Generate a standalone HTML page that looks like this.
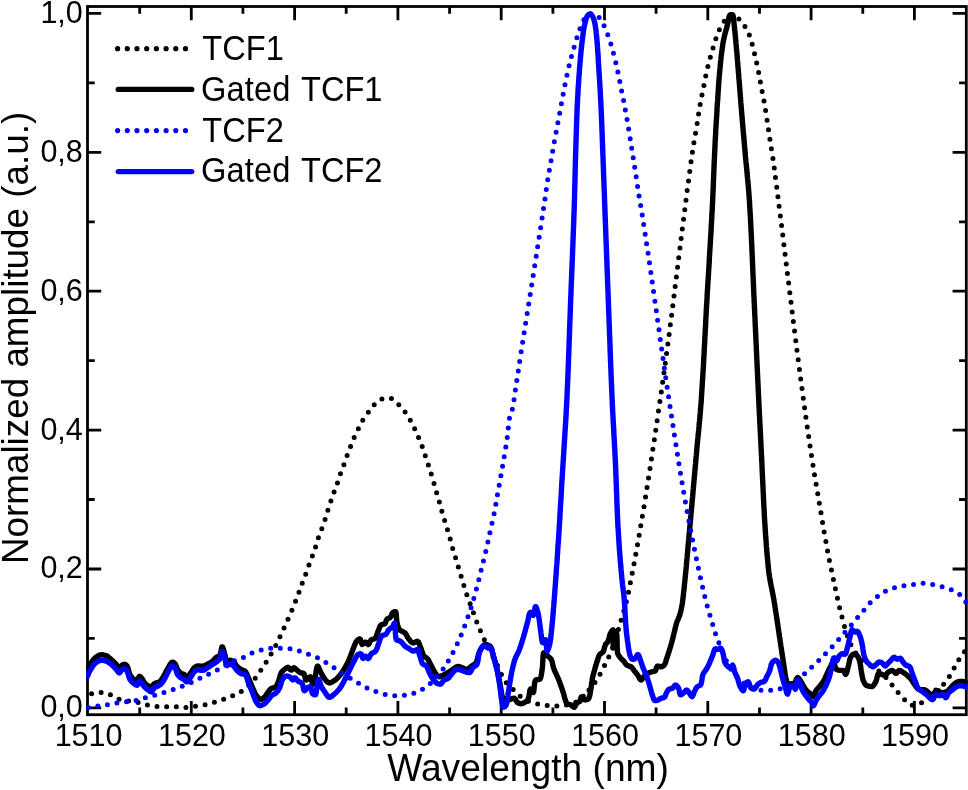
<!DOCTYPE html>
<html><head><meta charset="utf-8"><title>chart</title>
<style>
html,body{margin:0;padding:0;background:#fff;}
body{width:968px;height:790px;overflow:hidden;}
svg{display:block;will-change:transform;font-family:"Liberation Sans",sans-serif;fill:#000;}
.t{font-size:30.5px;}
.lg{font-size:32.6px;}
.ax{font-size:36.85px;}
</style></head><body>
<svg width="968" height="790" viewBox="0 0 968 790">
<rect width="968" height="790" fill="#fff"/>
<defs><clipPath id="c"><rect x="86.1" y="5.1" width="881.5999999999999" height="711.0"/></clipPath></defs>

<rect x="87.5" y="6.5" width="878.8" height="708.2" fill="none" stroke="#000" stroke-width="2.8"/>
<path d="M139.7 714.7 v-7.2 M139.7 6.5 v7.2 M191.3 714.7 v-13.7 M191.3 6.5 v13.7 M242.9 714.7 v-7.2 M242.9 6.5 v7.2 M294.6 714.7 v-13.7 M294.6 6.5 v13.7 M346.2 714.7 v-7.2 M346.2 6.5 v7.2 M397.9 714.7 v-13.7 M397.9 6.5 v13.7 M449.6 714.7 v-7.2 M449.6 6.5 v7.2 M501.2 714.7 v-13.7 M501.2 6.5 v13.7 M552.9 714.7 v-7.2 M552.9 6.5 v7.2 M604.5 714.7 v-13.7 M604.5 6.5 v13.7 M656.1 714.7 v-7.2 M656.1 6.5 v7.2 M707.8 714.7 v-13.7 M707.8 6.5 v13.7 M759.5 714.7 v-7.2 M759.5 6.5 v7.2 M811.1 714.7 v-13.7 M811.1 6.5 v13.7 M862.8 714.7 v-7.2 M862.8 6.5 v7.2 M914.4 714.7 v-13.7 M914.4 6.5 v13.7 M87.5 707.9 h13.7 M966.3 707.9 h-13.7 M87.5 638.4 h7.2 M966.3 638.4 h-7.2 M87.5 569.0 h13.7 M966.3 569.0 h-13.7 M87.5 499.5 h7.2 M966.3 499.5 h-7.2 M87.5 430.1 h13.7 M966.3 430.1 h-13.7 M87.5 360.6 h7.2 M966.3 360.6 h-7.2 M87.5 291.2 h13.7 M966.3 291.2 h-13.7 M87.5 221.8 h7.2 M966.3 221.8 h-7.2 M87.5 152.3 h13.7 M966.3 152.3 h-13.7 M87.5 82.8 h7.2 M966.3 82.8 h-7.2 M87.5 13.4 h13.7 M966.3 13.4 h-13.7" stroke="#000" stroke-width="2.8" fill="none"/>
<g clip-path="url(#c)" fill="none" stroke-linejoin="round" stroke-linecap="round">
<path d="M91.6 693.7 L94.6 692.9 L97.6 692.5 L100.5 692.4 L103.5 692.7 L106.4 693.5 L109.3 694.4 L112.0 695.5 L114.7 697.1 L117.3 698.6 L120.1 699.5 L122.9 700.2 L125.9 700.7 L128.9 701.1 L131.9 701.5 L134.9 702.0 L137.9 702.5 L140.8 703.2 L143.7 704.1 L146.6 704.8 L149.5 705.4 L152.5 705.9 L155.4 706.3 L158.4 706.5 L161.4 706.7 L164.4 706.8 L167.4 706.8 L170.4 706.8 L173.4 706.8 L176.4 706.8 L179.4 707.1 L182.4 707.5 L185.4 707.6 L188.4 707.3 L191.3 706.8 L194.3 706.3 L197.3 705.9 L200.3 705.6 L203.2 705.1 L206.2 704.5 L209.0 703.7 L211.9 702.9 L214.8 702.0 L217.7 701.2 L220.6 700.3 L223.4 699.4 L226.2 698.4 L229.0 697.3 L231.8 696.1 L234.6 695.0 L237.4 693.7 L240.0 692.3 L242.4 690.7 L244.8 688.9 L247.1 686.9 L249.3 684.8 L251.4 682.6 L253.4 680.4 L255.3 678.1 L257.1 675.7 L258.8 673.2 L260.5 670.7 L262.2 668.2 L263.9 665.7 L265.5 663.2 L267.1 660.7 L268.6 658.1 L270.2 655.5 L271.7 652.9 L273.2 650.3 L274.6 647.7 L276.0 645.0 L277.3 642.3 L278.6 639.6 L279.9 636.9 L281.2 634.2 L282.5 631.5 L283.7 628.8 L284.9 626.0 L286.2 623.3 L287.4 620.5 L288.6 617.8 L289.9 615.1 L291.1 612.3 L292.2 609.6 L293.4 606.8 L294.5 604.0 L295.6 601.2 L296.7 598.4 L297.8 595.6 L298.8 592.8 L299.8 590.0 L300.8 587.1 L301.8 584.3 L302.9 581.5 L304.0 578.8 L305.1 576.0 L306.1 573.1 L307.1 570.3 L308.1 567.5 L309.1 564.7 L310.2 561.8 L311.2 559.0 L312.3 556.2 L313.3 553.4 L314.4 550.6 L315.3 547.8 L316.2 544.9 L317.0 542.0 L317.9 539.1 L318.9 536.3 L319.9 533.5 L321.0 530.7 L322.1 527.9 L323.1 525.1 L324.2 522.3 L325.1 519.4 L326.0 516.5 L326.8 513.7 L327.7 510.8 L328.6 507.9 L329.6 505.1 L330.5 502.2 L331.5 499.4 L332.4 496.6 L333.4 493.7 L334.5 490.9 L335.6 488.1 L336.6 485.3 L337.6 482.5 L338.5 479.6 L339.4 476.8 L340.4 473.9 L341.5 471.1 L342.6 468.3 L343.6 465.5 L344.6 462.7 L345.6 459.8 L346.6 457.0 L347.6 454.2 L348.7 451.4 L349.8 448.6 L350.8 445.8 L351.9 443.0 L353.0 440.2 L354.2 437.5 L355.5 434.7 L356.8 432.0 L358.1 429.3 L359.4 426.6 L360.7 423.9 L362.1 421.3 L363.7 418.8 L365.5 416.3 L367.2 413.9 L369.0 411.4 L370.7 409.0 L372.5 406.5 L374.5 404.4 L376.8 402.1 L379.2 400.2 L381.8 399.1 L384.7 398.6 L387.8 398.2 L390.7 398.2 L393.2 399.3 L395.6 401.4 L397.9 403.8 L400.1 405.9 L402.1 408.1 L404.0 410.5 L405.8 412.9 L407.4 415.4 L409.0 417.9 L410.5 420.5 L411.9 423.2 L413.2 425.9 L414.6 428.6 L415.8 431.3 L417.0 434.0 L418.2 436.8 L419.4 439.6 L420.5 442.3 L421.7 445.1 L422.7 447.9 L423.6 450.8 L424.6 453.6 L425.5 456.5 L426.5 459.3 L427.4 462.2 L428.4 465.0 L429.3 467.9 L430.2 470.7 L431.1 473.6 L432.0 476.4 L432.9 479.3 L433.7 482.2 L434.5 485.1 L435.3 488.0 L436.1 490.9 L436.9 493.8 L437.7 496.6 L438.6 499.5 L439.5 502.4 L440.3 505.3 L441.0 508.2 L441.8 511.1 L442.7 513.9 L443.5 516.8 L444.4 519.7 L445.2 522.6 L446.1 525.4 L447.0 528.3 L447.9 531.2 L448.7 534.1 L449.6 536.9 L450.4 539.8 L451.2 542.7 L451.9 545.6 L452.7 548.5 L453.6 551.4 L454.5 554.2 L455.4 557.1 L456.2 560.0 L457.1 562.9 L458.0 565.7 L458.8 568.6 L459.7 571.5 L460.6 574.3 L461.4 577.2 L462.3 580.1 L463.1 583.0 L464.0 585.8 L464.8 588.7 L465.7 591.6 L466.7 594.4 L467.7 597.3 L468.7 600.1 L469.8 602.9 L470.8 605.7 L471.8 608.5 L472.9 611.3 L473.9 614.2 L474.9 617.0 L475.9 619.8 L477.0 622.6 L478.1 625.4 L479.2 628.2 L480.4 630.9 L481.6 633.7 L482.8 636.4 L484.1 639.1 L485.4 641.9 L486.7 644.5 L488.1 647.2 L489.4 649.9 L490.8 652.6 L492.2 655.2 L493.6 657.9 L494.9 660.6 L496.3 663.2 L497.6 665.9 L498.8 668.7 L500.0 671.4 L501.3 674.1 L502.7 676.8 L504.1 679.5 L505.8 682.0 L507.6 684.3 L509.7 686.4 L512.0 688.4 L514.1 690.5 L516.3 692.7 L518.5 694.7 L520.7 696.6 L523.2 698.4 L525.8 700.0 L528.5 701.2 L531.3 702.2 L534.2 703.1 L537.1 703.8 L540.1 704.4 L543.0 704.9 L546.0 705.3 L549.0 705.6 L552.0 705.9 L555.0 706.0 L558.0 705.9 L561.0 705.7 L563.9 705.3 L566.9 704.9 L569.9 704.3 L572.8 703.4 L575.5 702.3 L578.0 700.7 L580.4 698.8 L582.7 696.9 L584.8 694.8 L586.8 692.5 M589.0 690.0 L590.7 687.9 L592.6 685.6 L594.4 683.2 L596.1 680.7 L597.7 678.2 L599.2 675.6 L600.7 673.0 L602.1 670.3 L603.5 667.7 L604.8 665.0 L606.2 662.3 L607.5 659.6 L608.8 656.9 L610.1 654.2 L611.3 651.4 L612.5 648.7 L613.5 645.9 L614.4 643.0 L615.3 640.2 L616.1 637.3 L617.0 634.4 L617.8 631.5 L618.7 628.6 L619.5 625.7 L620.4 622.9 L621.2 620.0 L622.1 617.1 L622.9 614.2 L623.8 611.3 L624.6 608.5 L625.4 605.6 L626.1 602.7 L626.9 599.8 L627.5 596.8 L628.2 593.9 L628.8 591.0 L629.4 588.0 L629.9 585.1 L630.5 582.2 L631.1 579.2 L631.7 576.3 L632.2 573.3 L632.8 570.4 L633.4 567.4 L633.9 564.5 L634.5 561.5 L635.0 558.6 L635.5 555.6 L636.1 552.7 L636.6 549.7 L637.1 546.8 L637.7 543.8 L638.2 540.9 L638.7 537.9 L639.2 535.0 L639.7 532.0 L640.2 529.1 L640.7 526.1 L641.2 523.1 L641.7 520.2 L642.2 517.2 L642.7 514.3 L643.2 511.3 L643.7 508.3 L644.2 505.4 L644.7 502.4 L645.2 499.4 L645.6 496.5 L646.1 493.5 L646.6 490.6 L647.0 487.6 L647.5 484.6 L648.0 481.7 L648.4 478.7 L648.9 475.7 L649.3 472.8 L649.8 469.8 L650.3 466.8 L650.7 463.8 L651.2 460.9 L651.6 457.9 L652.1 454.9 L652.5 452.0 L652.9 449.0 L653.4 446.0 L653.8 443.1 L654.3 440.1 L654.7 437.1 L655.1 434.2 L655.6 431.2 L656.0 428.2 L656.5 425.3 L656.9 422.3 L657.3 419.3 L657.8 416.3 L658.2 413.4 L658.6 410.4 L659.1 407.4 L659.5 404.5 L659.9 401.5 L660.3 398.5 L660.8 395.6 L661.2 392.6 L661.6 389.6 L662.0 386.7 L662.5 383.7 L662.9 380.7 L663.3 377.8 L663.7 374.8 L664.1 371.8 L664.5 368.8 L664.9 365.9 L665.3 362.9 L665.7 359.9 L666.1 356.9 L666.5 354.0 L666.9 351.0 L667.3 348.0 L667.7 345.1 L668.1 342.1 L668.5 339.1 L668.9 336.1 L669.3 333.2 L669.6 330.2 L670.0 327.2 L670.4 324.2 L670.8 321.3 L671.2 318.3 L671.6 315.3 L671.9 312.3 L672.3 309.3 L672.7 306.4 L673.1 303.4 L673.4 300.4 L673.8 297.4 L674.2 294.5 L674.6 291.5 L674.9 288.5 L675.3 285.5 L675.7 282.6 L676.1 279.6 L676.4 276.6 L676.8 273.6 L677.2 270.6 L677.5 267.7 L677.9 264.7 L678.3 261.7 L678.6 258.7 L679.0 255.8 L679.4 252.8 L679.8 249.8 L680.1 246.8 L680.5 243.8 L680.9 240.9 L681.2 237.9 L681.6 234.9 L682.0 231.9 L682.3 229.0 L682.7 226.0 L683.1 223.0 L683.5 220.0 L683.8 217.1 L684.2 214.1 L684.6 211.1 L685.0 208.1 L685.3 205.1 L685.7 202.2 L686.1 199.2 L686.4 196.2 L686.8 193.2 L687.2 190.3 L687.7 187.3 L688.1 184.3 L688.5 181.3 L688.8 178.4 L689.2 175.4 L689.6 172.4 L690.0 169.4 L690.4 166.5 L690.8 163.5 L691.2 160.5 L691.6 157.6 L692.0 154.6 L692.5 151.6 L692.9 148.7 L693.4 145.7 L693.9 142.7 L694.4 139.8 L694.9 136.8 L695.4 133.9 L695.9 130.9 L696.4 127.9 L696.9 125.0 L697.4 122.0 L697.8 119.1 L698.3 116.1 L698.7 113.1 L699.2 110.2 L699.7 107.2 L700.2 104.3 L700.8 101.3 L701.3 98.4 L701.9 95.4 L702.5 92.5 L703.1 89.5 L703.7 86.6 L704.2 83.6 L704.8 80.7 L705.4 77.7 L706.0 74.8 L706.6 71.9 L707.3 68.9 L708.0 66.0 L708.7 63.1 L709.5 60.2 L710.3 57.3 L711.2 54.5 L712.0 51.6 L712.8 48.7 L713.7 45.8 L714.5 42.9 L715.4 40.0 L716.4 37.2 L717.4 34.4 L718.5 31.6 L719.8 28.9 L721.3 26.3 L722.9 23.7 L724.4 21.1 L726.1 18.5 L728.1 16.3 L730.6 14.7 L733.4 14.4 L736.0 16.1 L738.2 18.1 L740.3 20.4 L742.2 22.7 L744.0 25.1 L745.7 27.6 L747.2 30.2 L748.5 32.9 L749.6 35.7 L750.6 38.6 L751.4 41.4 L752.2 44.3 L753.0 47.2 L753.7 50.1 L754.4 53.1 L755.1 56.0 L755.7 58.9 L756.4 61.8 L757.1 64.8 L757.7 67.7 L758.3 70.6 L758.8 73.6 L759.3 76.5 L759.9 79.5 L760.4 82.4 L760.9 85.4 L761.5 88.3 L762.1 91.3 L762.6 94.2 L763.2 97.2 L763.8 100.1 L764.3 103.1 L764.8 106.0 L765.3 109.0 L765.8 111.9 L766.3 114.9 L766.7 117.9 L767.2 120.8 L767.6 123.8 L768.1 126.8 L768.5 129.7 L769.0 132.7 L769.4 135.7 L769.8 138.7 L770.3 141.6 L770.7 144.6 L771.2 147.5 L771.7 150.5 L772.2 153.5 L772.6 156.4 L773.1 159.4 L773.5 162.4 L773.9 165.3 L774.3 168.3 L774.7 171.3 L775.1 174.3 L775.4 177.2 L775.8 180.2 L776.2 183.2 L776.6 186.2 L777.0 189.1 L777.3 192.1 L777.7 195.1 L778.1 198.1 L778.5 201.0 L778.8 204.0 L779.2 207.0 L779.6 210.0 L780.0 213.0 L780.3 215.9 L780.7 218.9 L781.1 221.9 L781.5 224.9 L781.8 227.8 L782.2 230.8 L782.6 233.8 L782.9 236.8 L783.3 239.8 L783.7 242.7 L784.0 245.7 L784.4 248.7 L784.8 251.7 L785.1 254.6 L785.5 257.6 L785.9 260.6 L786.2 263.6 L786.6 266.6 L786.9 269.5 L787.3 272.5 L787.7 275.5 L788.0 278.5 L788.4 281.4 L788.8 284.4 L789.1 287.4 L789.5 290.4 L789.9 293.4 L790.2 296.3 L790.6 299.3 L791.0 302.3 L791.3 305.3 L791.7 308.2 L792.1 311.2 L792.4 314.2 L792.8 317.2 L793.2 320.2 L793.5 323.1 L793.9 326.1 L794.3 329.1 L794.7 332.1 L795.0 335.0 L795.4 338.0 L795.8 341.0 L796.2 344.0 L796.5 346.9 L796.9 349.9 L797.3 352.9 L797.7 355.9 L798.1 358.8 L798.4 361.8 L798.8 364.8 L799.2 367.8 L799.6 370.7 L800.0 373.7 L800.4 376.7 L800.8 379.7 L801.2 382.6 L801.6 385.6 L802.0 388.6 L802.4 391.6 L802.8 394.5 L803.2 397.5 L803.6 400.5 L804.0 403.4 L804.4 406.4 L804.8 409.4 L805.2 412.4 L805.6 415.3 L806.0 418.3 L806.5 421.3 L806.9 424.2 L807.3 427.2 L807.7 430.2 L808.2 433.2 L808.6 436.1 L809.0 439.1 L809.5 442.1 L809.9 445.0 L810.3 448.0 L810.8 451.0 L811.2 453.9 L811.7 456.9 L812.2 459.9 L812.6 462.8 L813.1 465.8 L813.6 468.7 L814.0 471.7 L814.5 474.7 L815.0 477.6 L815.5 480.6 L816.0 483.6 L816.5 486.5 L817.0 489.5 L817.5 492.4 L818.0 495.4 L818.5 498.3 L819.0 501.3 L819.5 504.3 L820.0 507.2 L820.5 510.2 L821.0 513.1 L821.5 516.1 L822.0 519.0 L822.5 522.0 L823.0 525.0 L823.5 527.9 L824.0 530.9 L824.5 533.8 L825.0 536.8 L825.6 539.7 L826.1 542.7 L826.6 545.7 L827.1 548.6 L827.7 551.6 L828.2 554.5 L828.8 557.5 L829.4 560.4 L830.0 563.3 L830.6 566.3 L831.3 569.2 L831.9 572.1 L832.5 575.1 L833.1 578.0 L833.7 580.9 L834.4 583.9 L835.0 586.8 L835.6 589.7 L836.2 592.7 L836.8 595.6 L837.5 598.5 L838.2 601.5 L838.8 604.4 L839.5 607.3 L840.2 610.2 L841.0 613.1 L841.7 616.0 L842.5 618.9 L843.2 621.8 L844.0 624.7 L844.9 627.6 L845.8 630.5 L846.7 633.4 L847.6 636.3 L848.6 639.1 L849.7 641.9 L850.9 644.7 L852.2 647.3 L853.7 649.8 L855.4 652.4 L857.2 654.8 L859.2 657.2 L861.3 659.3 L863.4 661.2 L865.8 662.9 L868.4 664.5 L871.0 666.0 L873.7 667.6 L876.3 669.1 M878.9 671.0 L881.1 672.8 L883.3 674.8 L885.4 676.9 L887.4 679.1 L889.3 681.5 L891.1 683.9 L893.0 686.2 L894.8 688.6 L896.7 690.9 L898.6 693.2 L900.6 695.5 L902.6 697.8 L904.7 699.9 L906.9 702.0 L909.4 704.2 L911.9 705.4 L914.7 705.1 L917.8 704.3 L920.6 703.3 L923.2 701.9 L925.6 700.0 L927.9 698.0 L929.9 695.8 L931.8 693.4 L933.9 691.3 L936.3 689.5 L938.8 687.7 L941.3 686.0 L943.6 684.2 L945.6 682.0 L947.4 679.6 L949.1 677.0 L950.6 674.5 L952.1 671.9 L953.5 669.2 L955.0 666.6 L956.4 663.9 L957.8 661.3 L959.4 658.8 L961.1 656.3 L962.8 653.9 L964.7 651.5" stroke="#000" stroke-width="5.0" stroke-dasharray="0 9.67"/>
<path d="M87.5 670.4 L88.0 668.9 L88.7 667.4 L89.4 665.9 L90.1 664.5 L91.0 663.2 L91.8 661.9 L92.7 660.5 L93.8 659.2 L94.9 658.0 L96.1 657.0 L97.4 656.2 L98.9 655.4 L100.4 654.9 L102.0 654.7 L103.6 655.0 L105.1 655.4 L106.6 655.9 L108.0 656.7 L109.2 657.7 L110.5 658.8 L111.7 659.9 L112.8 661.0 L114.0 662.1 L115.1 663.2 L116.2 664.4 L117.3 665.8 L118.3 667.3 L119.3 667.9 L120.4 667.0 L121.5 665.5 L122.9 664.7 L124.5 664.3 L125.9 664.8 L127.1 666.1 L127.7 667.4 L128.2 668.9 L128.6 670.6 L129.1 672.2 L129.6 673.7 L130.3 675.2 L131.2 676.6 L132.1 677.9 L133.2 678.9 L134.8 679.7 L136.4 680.2 L137.5 680.1 L138.3 678.3 L139.1 676.5 L140.0 676.4 L141.2 677.6 L142.3 679.0 L143.1 680.4 L143.8 681.9 L144.8 683.1 L145.9 684.2 L147.2 685.3 L148.6 686.1 L150.1 686.7 L151.5 686.9 L152.6 685.8 L153.7 684.3 L155.0 683.4 L156.5 682.9 L158.2 682.5 L159.5 681.9 L160.6 680.8 L161.6 679.5 L162.5 678.1 L163.4 676.7 L164.2 675.4 L164.9 673.9 L165.6 672.5 L166.3 671.0 L167.1 669.6 L167.9 668.3 L168.8 666.7 L169.7 665.0 L170.7 663.5 L171.7 662.4 L172.8 662.2 L174.3 663.0 L175.4 664.2 L176.0 665.6 L176.6 667.2 L177.1 668.7 L177.9 670.1 L178.9 671.4 L180.0 672.6 L181.3 673.4 L182.8 674.0 L184.3 674.6 L185.4 676.0 L186.5 677.0 L187.7 676.6 L188.9 675.4 L190.0 673.9 L191.0 672.6 L191.9 671.2 L192.7 669.8 L193.6 668.5 L194.7 667.4 L196.1 666.4 L197.6 666.0 L199.1 666.0 L200.8 666.2 L202.4 666.3 L203.9 666.0 L205.4 665.3 L206.8 664.5 L208.3 663.8 L209.7 663.0 L211.1 662.2 L212.3 661.3 L213.5 660.2 L214.6 658.9 L215.7 657.8 L217.0 656.9 L218.6 656.2 L219.8 655.4 L220.4 654.0 L220.8 652.1 L221.2 650.0 L221.6 648.2 L221.9 647.0 L222.4 646.9 L222.9 647.8 L223.4 649.5 L224.0 651.5 L224.5 653.4 L225.0 655.1 L225.4 657.0 L225.8 659.0 L226.3 660.5 L227.0 661.3 L228.1 661.0 L229.8 660.3 L231.3 660.4 L232.7 661.3 L234.0 662.4 L235.0 663.6 L235.9 664.9 L236.9 666.2 L238.1 667.3 L239.3 668.3 L240.6 669.2 L242.1 670.0 L243.7 670.5 L245.0 671.2 L245.9 672.3 L246.7 673.7 L247.3 675.3 L248.0 676.9 L248.6 678.3 L249.3 679.8 L249.9 681.3 L250.5 682.8 L251.1 684.3 L251.7 685.8 L252.3 687.2 L253.0 688.7 L253.6 690.2 L254.3 691.7 L255.0 693.2 L255.7 694.5 L256.6 695.8 L257.6 697.2 L258.9 698.5 L260.2 699.3 L261.5 699.3 L262.9 698.4 L264.2 697.2 L265.3 696.1 L266.3 694.8 L267.1 693.5 L268.0 692.1 L269.0 690.8 L270.0 689.5 L271.2 688.5 L272.7 688.0 L274.4 687.7 L275.5 687.0 L276.5 685.7 L277.3 684.1 L278.0 682.6 L278.6 681.1 L279.1 679.6 L279.5 678.0 L279.9 676.4 L280.4 674.8 L281.0 673.4 L281.7 672.1 L282.8 670.9 L284.1 669.8 L285.3 668.8 L286.7 667.7 L288.0 667.2 L289.3 668.1 L290.4 669.7 L291.6 670.1 L292.7 668.6 L293.9 667.7 L295.1 668.4 L296.4 669.6 L297.7 670.7 L298.9 671.8 L300.2 672.6 L301.9 673.0 L303.5 673.4 L304.3 674.3 L304.8 676.2 L305.2 678.3 L305.7 679.8 L306.5 680.0 L307.8 678.9 L309.3 677.4 L310.3 676.8 L311.0 677.7 L311.5 679.6 L312.0 681.9 L312.4 683.6 L312.8 684.2 L313.3 683.5 L313.8 682.1 L314.3 680.2 L314.7 678.2 L315.1 676.3 L315.6 674.6 L315.9 672.7 L316.3 670.6 L316.6 668.7 L317.0 667.1 L317.4 666.2 L317.9 666.1 L318.6 667.3 L319.4 669.1 L320.1 670.9 L320.9 672.3 L321.6 673.8 L322.3 675.2 L323.1 676.6 L324.0 677.9 L324.9 679.2 L326.0 680.6 L327.3 681.9 L328.6 682.7 L329.9 682.8 L331.3 682.4 L332.8 681.6 L334.3 680.6 L335.6 679.7 L336.8 678.7 L338.0 677.5 L339.0 676.3 L340.1 675.1 L341.0 673.8 L342.0 672.5 L342.9 671.2 L343.7 669.8 L344.5 668.5 L345.3 667.1 L346.1 665.7 L346.9 664.3 L347.6 662.8 L348.3 661.4 L348.9 659.9 L349.5 658.4 L350.1 657.0 L350.7 655.5 L351.3 654.0 L351.8 652.5 L352.4 651.0 L352.9 649.5 L353.5 648.0 L354.1 646.4 L354.7 644.9 L355.3 643.4 L356.0 642.0 L357.0 640.8 L358.4 639.5 L359.7 638.8 L360.5 639.4 L361.0 641.3 L361.6 643.4 L362.2 644.5 L363.3 643.9 L364.7 642.5 L366.0 642.2 L367.2 643.6 L368.2 644.5 L369.1 643.6 L369.9 641.9 L370.8 640.2 L371.9 639.4 L373.7 639.1 L375.0 638.6 L375.8 637.6 L376.4 636.1 L377.0 634.4 L377.5 632.7 L378.2 631.1 L378.8 629.5 L379.4 627.8 L380.1 626.2 L380.9 625.1 L382.1 624.5 L383.8 624.2 L385.0 623.6 L385.7 622.1 L386.3 620.4 L387.1 619.0 L388.4 618.2 L390.0 617.6 L391.0 616.5 L391.6 614.9 L392.2 613.2 L393.1 612.2 L394.9 611.6 L395.6 611.6 L396.0 612.4 L396.2 613.8 L396.3 615.6 L396.5 617.7 L396.6 619.8 L396.8 621.7 L397.1 623.4 L397.5 625.0 L398.1 626.6 L398.7 628.2 L399.4 629.5 L400.4 630.4 L401.9 631.2 L403.4 631.9 L404.8 632.8 L405.8 633.9 L406.6 635.3 L407.4 636.8 L408.2 638.2 L409.1 639.5 L410.2 640.8 L411.4 642.1 L412.8 642.8 L414.2 642.7 L415.9 641.8 L417.2 641.3 L418.2 641.7 L418.9 642.9 L419.6 644.7 L420.2 646.6 L420.9 648.2 L421.4 649.7 L421.9 651.3 L422.5 652.9 L423.0 654.4 L423.7 655.7 L424.8 656.8 L426.2 657.7 L427.4 658.7 L428.3 659.9 L429.1 661.3 L429.8 662.8 L430.5 664.3 L431.3 665.7 L432.0 667.1 L432.8 668.6 L433.5 670.0 L434.3 671.4 L435.1 672.8 L436.0 674.1 L437.1 675.6 L438.3 676.6 L439.6 676.7 L441.1 676.1 L442.7 675.3 L444.1 674.6 L445.6 673.9 L447.0 673.2 L448.4 672.4 L449.7 671.5 L451.0 670.6 L452.3 669.7 L453.7 668.8 L455.0 667.7 L456.4 666.8 L457.8 666.4 L459.3 666.6 L460.9 667.2 L462.4 667.8 L463.9 668.5 L465.5 669.1 L466.9 669.3 L468.3 668.9 L469.6 667.8 L470.8 666.6 L472.2 665.6 L473.7 664.8 L475.0 663.8 L476.0 662.8 L476.7 661.5 L477.1 660.0 L477.5 658.4 L477.9 656.8 L478.3 655.1 L478.9 653.6 L479.4 652.1 L480.0 650.6 L480.7 649.2 L481.6 647.8 L482.6 646.3 L483.8 645.1 L485.1 644.5 L486.7 644.7 L488.4 645.3 L489.8 646.0 L490.6 646.8 L491.3 648.0 L491.8 649.5 L492.2 651.3 L492.6 653.0 L493.1 654.8 L493.5 656.4 L494.0 657.9 L494.4 659.4 L494.9 661.0 L495.4 662.5 L495.8 664.0 L496.2 665.6 L496.6 667.1 L497.0 668.7 L497.3 670.2 L497.7 671.8 L498.0 673.4 L498.3 674.9 L498.6 676.5 L498.9 678.1 L499.2 679.7 L499.5 681.2 L499.8 682.8 L500.1 684.4 L500.4 686.0 L500.6 687.5 L500.9 689.1 L501.2 690.7 L501.4 692.3 L501.7 693.9 L502.0 695.4 L502.4 697.0 L502.8 698.6 L503.3 700.6 L503.9 702.5 L504.5 703.7 L505.2 704.0 L506.1 702.7 L507.1 701.1 L508.4 700.1 L509.9 699.4 L511.4 698.9 L513.0 698.4 L514.4 698.3 L515.4 699.4 L516.3 701.0 L517.3 702.4 L518.7 703.2 L520.3 703.7 L521.8 703.6 L523.4 703.1 L524.9 702.4 L526.2 701.5 L527.4 700.3 L528.2 699.0 L528.7 697.3 L529.1 695.4 L529.4 693.3 L529.7 691.4 L530.0 690.0 L530.5 689.2 L531.2 689.8 L532.4 691.6 L533.2 692.5 L533.6 691.9 L533.9 690.5 L534.1 688.5 L534.3 686.3 L534.5 684.1 L534.8 682.2 L535.2 680.7 L535.8 680.0 L537.4 679.7 L539.3 679.4 L540.1 678.9 L540.6 677.8 L541.1 676.2 L541.4 674.4 L541.7 672.5 L542.0 670.7 L542.2 669.0 L542.4 667.2 L542.6 665.3 L542.7 663.2 L542.8 661.1 L542.9 659.0 L543.0 657.1 L543.1 655.4 L543.3 654.1 L543.5 653.2 L543.8 652.8 L544.7 653.3 L546.3 654.4 L547.4 655.5 L548.5 656.7 L549.8 657.8 L550.9 658.9 L551.6 660.2 L552.1 661.6 L552.5 663.2 L552.8 664.8 L553.2 666.5 L553.6 668.0 L554.1 669.5 L554.8 671.0 L555.4 672.5 L556.1 673.9 L556.8 675.4 L557.4 676.8 L558.1 678.3 L558.7 679.8 L559.3 681.3 L559.8 682.8 L560.4 684.3 L560.9 685.8 L561.5 687.3 L562.0 688.8 L562.5 690.3 L563.0 691.8 L563.5 693.4 L563.9 694.9 L564.3 696.5 L564.7 698.0 L565.2 699.5 L565.7 701.2 L566.4 702.8 L567.3 703.9 L568.6 704.4 L570.3 704.7 L571.8 705.5 L573.1 706.8 L574.2 707.3 L575.1 706.4 L575.9 704.7 L576.8 703.0 L578.0 702.2 L579.6 701.7 L580.4 700.6 L580.8 698.5 L581.2 696.9 L581.9 696.9 L583.0 698.3 L584.3 699.7 L585.7 699.8 L587.5 699.4 L588.5 698.8 L589.1 697.6 L589.6 696.1 L590.0 694.3 L590.3 692.4 L590.6 690.7 L590.9 689.2 L591.1 687.6 L591.3 686.0 L591.5 684.4 L591.7 682.8 L592.0 681.2 L592.2 679.7 L592.5 678.1 L592.8 676.5 L593.2 675.0 L593.6 673.4 L594.1 671.9 L594.5 670.3 L594.9 668.8 L595.3 667.2 L595.8 665.7 L596.2 664.2 L596.7 662.6 L597.2 661.1 L597.7 659.6 L598.2 658.0 L598.7 656.4 L599.4 655.0 L600.3 653.9 L601.8 653.0 L603.0 652.0 L603.6 650.7 L604.1 649.2 L604.5 647.5 L605.0 645.9 L605.5 644.5 L606.5 643.2 L607.6 641.9 L608.3 640.6 L608.8 639.0 L609.2 637.5 L609.6 635.9 L610.0 634.3 L610.7 632.9 L611.8 631.1 L612.8 629.9 L613.0 629.8 L613.0 630.6 L613.1 632.0 L613.1 633.9 L613.1 636.1 L613.1 638.4 L613.1 640.8 L613.2 643.1 L613.2 645.0 L613.2 646.6 L613.2 647.6 L613.3 647.8 L613.3 647.3 L613.4 646.0 L613.4 644.2 L613.5 642.0 L613.6 639.6 L613.7 637.2 L613.9 635.1 L614.1 633.2 L614.3 631.9 L614.5 631.3 L615.6 631.9 L616.6 633.2 L616.8 634.5 L616.9 635.9 L617.0 637.4 L617.0 639.0 L617.1 640.7 L617.1 642.4 L617.1 644.2 L617.2 645.9 L617.2 647.6 L617.3 649.3 L617.4 650.9 L617.5 652.5 L617.9 654.0 L618.6 655.4 L619.6 656.8 L620.6 658.0 L621.7 659.2 L622.9 660.3 L624.0 661.4 L624.9 662.8 L625.9 664.2 L627.0 665.2 L628.4 665.8 L630.0 666.3 L631.4 667.0 L632.4 668.2 L633.4 669.5 L634.3 670.9 L635.3 672.1 L636.4 673.4 L637.3 674.6 L638.3 676.0 L639.2 677.7 L640.0 679.3 L640.9 680.1 L641.9 679.6 L642.8 678.1 L643.9 676.5 L645.0 675.3 L646.3 674.3 L647.6 673.5 L649.0 672.8 L650.6 672.2 L652.1 671.7 L653.8 671.4 L655.2 670.9 L655.9 669.6 L656.5 667.6 L657.2 666.2 L658.3 666.2 L660.0 666.7 L661.6 666.8 L663.2 666.0 L664.3 665.0 L665.0 663.8 L665.6 662.3 L666.0 660.6 L666.5 659.0 L667.1 657.5 L667.6 655.9 L668.1 654.4 L668.6 652.9 L669.1 651.4 L669.5 649.9 L670.0 648.3 L670.5 646.8 L670.9 645.3 L671.4 643.7 L671.8 642.2 L672.2 640.6 L672.6 639.1 L673.0 637.5 L673.4 636.0 L673.7 634.4 L674.1 632.9 L674.5 631.3 L674.9 629.7 L675.2 628.2 L675.6 626.6 L676.0 625.1 L676.4 623.5 L676.9 622.0 L677.5 620.5 L678.2 619.1 L678.8 617.6 L679.4 616.1 L679.9 614.6 L680.3 613.1 L680.7 611.5 L681.1 610.0 L681.4 608.4 L681.7 606.8 L682.0 605.2 L682.3 603.7 L682.5 602.1 L682.7 600.5 L682.9 598.9 L683.1 597.3 L683.3 595.7 L683.5 594.1 L683.6 592.5 L683.8 591.0 L684.0 589.4 L684.2 587.8 L684.3 586.2 L684.5 584.6 L684.6 583.0 L684.8 581.4 L685.0 579.8 L685.1 578.2 L685.3 576.6 L685.4 575.0 L685.6 573.5 L685.8 571.9 L685.9 570.3 L686.1 568.7 L686.2 567.1 L686.4 565.5 L686.5 563.9 L686.6 562.3 L686.8 560.7 L686.9 559.1 L687.1 557.5 L687.2 555.9 L687.4 554.3 L687.5 552.7 L687.7 551.1 L687.8 549.5 L687.9 548.0 L688.1 546.4 L688.2 544.8 L688.4 543.2 L688.5 541.6 L688.7 540.0 L688.8 538.4 L688.9 536.8 L689.1 535.2 L689.2 533.6 L689.4 532.0 L689.5 530.4 L689.7 528.8 L689.8 527.2 L690.0 525.6 L690.1 524.0 L690.3 522.5 L690.4 520.9 L690.6 519.3 L690.7 517.7 L690.8 516.1 L691.0 514.5 L691.1 512.9 L691.3 511.3 L691.4 509.7 L691.6 508.1 L691.7 506.5 L691.9 504.9 L692.0 503.3 L692.1 501.7 L692.3 500.1 L692.4 498.6 L692.6 497.0 L692.7 495.4 L692.9 493.8 L693.0 492.2 L693.1 490.6 L693.3 489.0 L693.4 487.4 L693.6 485.8 L693.7 484.2 L693.9 482.6 L694.0 481.0 L694.1 479.4 L694.3 477.8 L694.4 476.2 L694.6 474.6 L694.7 473.1 L694.8 471.5 L695.0 469.9 L695.1 468.3 L695.3 466.7 L695.4 465.1 L695.6 463.5 L695.7 461.9 L695.8 460.3 L696.0 458.7 L696.1 457.1 L696.3 455.5 L696.4 453.9 L696.6 452.3 L696.7 450.7 L696.8 449.2 L697.0 447.6 L697.1 446.0 L697.3 444.4 L697.4 442.8 L697.6 441.2 L697.7 439.6 L697.9 438.0 L698.0 436.4 L698.2 434.8 L698.4 433.2 L698.5 431.6 L698.7 430.0 L698.8 428.4 L699.0 426.8 L699.1 425.3 L699.3 423.7 L699.4 422.1 L699.6 420.5 L699.7 418.9 L699.9 417.3 L700.0 415.7 L700.1 414.1 L700.3 412.5 L700.4 410.9 L700.5 409.3 L700.7 407.7 L700.8 406.1 L700.9 404.5 L701.1 402.9 L701.2 401.3 L701.3 399.8 L701.4 398.2 L701.5 396.6 L701.6 395.0 L701.7 393.4 L701.8 391.8 L701.9 390.2 L702.0 388.6 L702.1 387.0 L702.2 385.4 L702.3 383.8 L702.4 382.2 L702.5 380.6 L702.6 379.0 L702.7 377.4 L702.8 375.8 L702.9 374.2 L703.0 372.6 L703.1 371.0 L703.2 369.4 L703.3 367.8 L703.4 366.2 L703.5 364.6 L703.6 363.0 L703.6 361.4 L703.7 359.8 L703.8 358.2 L703.9 356.6 L704.0 355.0 L704.1 353.4 L704.2 351.8 L704.2 350.2 L704.3 348.6 L704.4 347.0 L704.5 345.5 L704.6 343.9 L704.7 342.3 L704.7 340.7 L704.8 339.1 L704.9 337.5 L705.0 335.9 L705.1 334.3 L705.2 332.7 L705.2 331.1 L705.3 329.5 L705.4 327.9 L705.5 326.3 L705.6 324.7 L705.7 323.1 L705.7 321.5 L705.8 319.9 L705.9 318.3 L706.0 316.7 L706.1 315.1 L706.2 313.5 L706.2 311.9 L706.3 310.3 L706.4 308.7 L706.5 307.1 L706.6 305.5 L706.7 303.9 L706.8 302.3 L706.9 300.7 L707.0 299.1 L707.1 297.5 L707.1 295.9 L707.2 294.3 L707.3 292.7 L707.4 291.1 L707.5 289.5 L707.6 287.9 L707.7 286.3 L707.8 284.7 L707.9 283.1 L708.0 281.5 L708.1 279.9 L708.2 278.3 L708.3 276.7 L708.4 275.2 L708.5 273.6 L708.6 272.0 L708.7 270.4 L708.8 268.8 L708.9 267.2 L709.0 265.6 L709.1 264.0 L709.2 262.4 L709.3 260.8 L709.3 259.2 L709.4 257.6 L709.5 256.0 L709.6 254.4 L709.7 252.8 L709.8 251.2 L709.9 249.6 L710.0 248.0 L710.1 246.4 L710.2 244.8 L710.3 243.2 L710.4 241.6 L710.5 240.0 L710.6 238.4 L710.7 236.8 L710.8 235.2 L710.9 233.6 L711.0 232.0 L711.1 230.4 L711.1 228.8 L711.2 227.2 L711.3 225.6 L711.4 224.0 L711.5 222.4 L711.6 220.8 L711.7 219.2 L711.8 217.7 L711.8 216.1 L711.9 214.5 L712.0 212.9 L712.1 211.3 L712.2 209.7 L712.3 208.1 L712.3 206.5 L712.4 204.9 L712.5 203.3 L712.6 201.7 L712.7 200.1 L712.7 198.5 L712.8 196.9 L712.9 195.3 L712.9 193.7 L713.0 192.1 L713.1 190.5 L713.2 188.9 L713.2 187.3 L713.3 185.7 L713.3 184.1 L713.4 182.5 L713.5 180.9 L713.5 179.3 L713.6 177.7 L713.7 176.1 L713.7 174.5 L713.8 172.9 L713.9 171.3 L713.9 169.7 L714.0 168.1 L714.0 166.5 L714.1 164.9 L714.2 163.3 L714.2 161.7 L714.3 160.1 L714.4 158.5 L714.5 156.9 L714.5 155.3 L714.6 153.7 L714.7 152.1 L714.8 150.5 L714.8 148.9 L714.9 147.3 L715.0 145.7 L715.1 144.1 L715.1 142.5 L715.2 140.9 L715.3 139.3 L715.4 137.7 L715.5 136.1 L715.6 134.5 L715.7 132.9 L715.7 131.3 L715.8 129.7 L715.9 128.1 L716.0 126.6 L716.1 125.0 L716.2 123.4 L716.3 121.8 L716.4 120.2 L716.5 118.6 L716.6 117.0 L716.7 115.4 L716.8 113.8 L716.9 112.2 L717.0 110.6 L717.0 109.0 L717.1 107.4 L717.2 105.8 L717.3 104.2 L717.4 102.6 L717.6 101.0 L717.7 99.4 L717.8 97.8 L717.9 96.2 L718.0 94.6 L718.1 93.0 L718.2 91.4 L718.3 89.8 L718.4 88.2 L718.5 86.6 L718.6 85.0 L718.7 83.4 L718.8 81.8 L719.0 80.2 L719.1 78.6 L719.2 77.1 L719.4 75.5 L719.5 73.9 L719.6 72.3 L719.8 70.7 L719.9 69.1 L720.1 67.5 L720.2 65.9 L720.4 64.3 L720.5 62.7 L720.7 61.1 L720.9 59.5 L721.0 57.9 L721.2 56.3 L721.4 54.7 L721.6 53.1 L721.8 51.6 L722.0 50.0 L722.2 48.4 L722.5 46.8 L722.7 45.2 L722.9 43.7 L723.2 42.1 L723.5 40.5 L723.8 39.0 L724.2 37.4 L724.5 35.8 L724.9 34.3 L725.3 32.7 L725.7 31.2 L726.2 29.6 L726.6 28.1 L727.0 26.5 L727.4 25.0 L727.8 23.2 L728.2 21.2 L728.5 19.2 L728.9 17.3 L729.4 15.9 L730.1 14.9 L731.0 14.7 L732.5 14.7 L732.9 15.2 L733.3 16.5 L733.5 18.2 L733.7 20.2 L733.9 22.3 L734.1 24.3 L734.3 26.0 L734.5 27.5 L734.6 29.1 L734.8 30.7 L735.0 32.3 L735.1 33.9 L735.3 35.5 L735.4 37.1 L735.6 38.7 L735.7 40.3 L735.9 41.9 L736.0 43.5 L736.2 45.1 L736.3 46.7 L736.4 48.3 L736.6 49.8 L736.7 51.4 L736.9 53.0 L737.0 54.6 L737.1 56.2 L737.3 57.8 L737.4 59.4 L737.5 61.0 L737.7 62.6 L737.8 64.2 L737.9 65.8 L738.0 67.4 L738.2 69.0 L738.3 70.6 L738.4 72.2 L738.6 73.8 L738.7 75.4 L738.8 77.0 L738.9 78.5 L739.1 80.1 L739.2 81.7 L739.3 83.3 L739.5 84.9 L739.6 86.5 L739.7 88.1 L739.8 89.7 L740.0 91.3 L740.1 92.9 L740.2 94.5 L740.3 96.1 L740.5 97.7 L740.6 99.3 L740.7 100.9 L740.8 102.5 L741.0 104.1 L741.1 105.7 L741.2 107.3 L741.4 108.9 L741.5 110.4 L741.6 112.0 L741.7 113.6 L741.9 115.2 L742.0 116.8 L742.1 118.4 L742.3 120.0 L742.4 121.6 L742.6 123.2 L742.7 124.8 L742.8 126.4 L743.0 128.0 L743.1 129.6 L743.2 131.2 L743.4 132.8 L743.5 134.4 L743.7 136.0 L743.8 137.5 L743.9 139.1 L744.1 140.7 L744.2 142.3 L744.4 143.9 L744.5 145.5 L744.6 147.1 L744.8 148.7 L744.9 150.3 L745.1 151.9 L745.2 153.5 L745.3 155.1 L745.5 156.7 L745.6 158.3 L745.8 159.9 L745.9 161.5 L746.1 163.0 L746.3 164.6 L746.4 166.2 L746.6 167.8 L746.7 169.4 L746.9 171.0 L747.0 172.6 L747.2 174.2 L747.3 175.8 L747.5 177.4 L747.6 179.0 L747.8 180.6 L747.9 182.2 L748.1 183.8 L748.2 185.4 L748.4 186.9 L748.5 188.5 L748.6 190.1 L748.8 191.7 L748.9 193.3 L749.0 194.9 L749.1 196.5 L749.2 198.1 L749.3 199.7 L749.5 201.3 L749.6 202.9 L749.6 204.5 L749.7 206.1 L749.8 207.7 L749.9 209.3 L750.0 210.9 L750.1 212.5 L750.2 214.1 L750.3 215.7 L750.4 217.3 L750.5 218.9 L750.6 220.5 L750.6 222.1 L750.7 223.7 L750.8 225.3 L750.9 226.8 L751.0 228.4 L751.0 230.0 L751.1 231.6 L751.2 233.2 L751.3 234.8 L751.4 236.4 L751.4 238.0 L751.5 239.6 L751.6 241.2 L751.6 242.8 L751.7 244.4 L751.8 246.0 L751.9 247.6 L751.9 249.2 L752.0 250.8 L752.1 252.4 L752.1 254.0 L752.2 255.6 L752.3 257.2 L752.3 258.8 L752.4 260.4 L752.5 262.0 L752.5 263.6 L752.6 265.2 L752.7 266.8 L752.7 268.4 L752.8 270.0 L752.9 271.6 L752.9 273.2 L753.0 274.8 L753.1 276.4 L753.2 278.0 L753.2 279.6 L753.3 281.2 L753.4 282.8 L753.4 284.4 L753.5 286.0 L753.6 287.6 L753.6 289.2 L753.7 290.8 L753.8 292.4 L753.8 294.0 L753.9 295.6 L754.0 297.2 L754.1 298.8 L754.1 300.4 L754.2 302.0 L754.3 303.6 L754.4 305.2 L754.4 306.8 L754.5 308.4 L754.6 310.0 L754.7 311.6 L754.7 313.2 L754.8 314.8 L754.9 316.4 L755.0 318.0 L755.0 319.6 L755.1 321.2 L755.2 322.8 L755.2 324.4 L755.3 326.0 L755.4 327.6 L755.5 329.2 L755.5 330.8 L755.6 332.4 L755.7 334.0 L755.8 335.6 L755.8 337.2 L755.9 338.7 L756.0 340.3 L756.0 341.9 L756.1 343.5 L756.2 345.1 L756.3 346.7 L756.3 348.3 L756.4 349.9 L756.5 351.5 L756.6 353.1 L756.6 354.7 L756.7 356.3 L756.8 357.9 L756.8 359.5 L756.9 361.1 L757.0 362.7 L757.1 364.3 L757.1 365.9 L757.2 367.5 L757.3 369.1 L757.4 370.7 L757.4 372.3 L757.5 373.9 L757.6 375.5 L757.7 377.1 L757.7 378.7 L757.8 380.3 L757.9 381.9 L758.0 383.5 L758.0 385.1 L758.1 386.7 L758.2 388.3 L758.3 389.9 L758.3 391.5 L758.4 393.1 L758.5 394.7 L758.6 396.3 L758.6 397.9 L758.7 399.5 L758.8 401.1 L758.9 402.7 L758.9 404.3 L759.0 405.9 L759.1 407.5 L759.2 409.1 L759.3 410.7 L759.3 412.3 L759.4 413.9 L759.5 415.5 L759.6 417.1 L759.7 418.7 L759.7 420.3 L759.8 421.9 L759.9 423.5 L760.0 425.1 L760.1 426.7 L760.1 428.2 L760.2 429.8 L760.3 431.4 L760.4 433.0 L760.5 434.6 L760.5 436.2 L760.6 437.8 L760.7 439.4 L760.8 441.0 L760.9 442.6 L760.9 444.2 L761.0 445.8 L761.1 447.4 L761.2 449.0 L761.3 450.6 L761.3 452.2 L761.4 453.8 L761.5 455.4 L761.6 457.0 L761.7 458.6 L761.7 460.2 L761.8 461.8 L761.9 463.4 L762.0 465.0 L762.0 466.6 L762.1 468.2 L762.2 469.8 L762.2 471.4 L762.3 473.0 L762.4 474.6 L762.5 476.2 L762.5 477.8 L762.6 479.4 L762.7 481.0 L762.8 482.6 L762.8 484.2 L762.9 485.8 L763.0 487.4 L763.1 489.0 L763.1 490.6 L763.2 492.2 L763.3 493.8 L763.4 495.4 L763.4 497.0 L763.5 498.6 L763.6 500.2 L763.7 501.8 L763.7 503.4 L763.8 505.0 L763.9 506.6 L764.0 508.2 L764.1 509.8 L764.2 511.4 L764.3 513.0 L764.3 514.6 L764.4 516.1 L764.5 517.7 L764.6 519.3 L764.7 520.9 L764.8 522.5 L764.9 524.1 L765.0 525.7 L765.1 527.3 L765.2 528.9 L765.3 530.5 L765.4 532.1 L765.5 533.7 L765.6 535.3 L765.7 536.9 L765.9 538.5 L766.0 540.1 L766.1 541.7 L766.2 543.3 L766.3 544.9 L766.4 546.5 L766.6 548.1 L766.7 549.7 L766.8 551.3 L766.9 552.9 L767.1 554.5 L767.2 556.1 L767.4 557.7 L767.5 559.3 L767.7 560.9 L767.8 562.4 L768.0 564.0 L768.1 565.6 L768.3 567.2 L768.5 568.8 L768.7 570.4 L768.8 572.0 L769.0 573.6 L769.3 575.1 L769.5 576.7 L769.8 578.3 L770.0 579.9 L770.3 581.4 L770.6 583.0 L770.9 584.6 L771.2 586.1 L771.6 587.7 L771.9 589.3 L772.2 590.9 L772.5 592.4 L772.8 594.0 L773.1 595.6 L773.4 597.2 L773.7 598.7 L774.0 600.3 L774.2 601.9 L774.5 603.5 L774.7 605.0 L775.0 606.6 L775.2 608.2 L775.5 609.8 L775.7 611.4 L776.0 613.0 L776.2 614.5 L776.4 616.1 L776.7 617.7 L776.9 619.3 L777.2 620.9 L777.4 622.4 L777.6 624.0 L777.9 625.6 L778.1 627.2 L778.3 628.8 L778.6 630.4 L778.8 631.9 L779.0 633.5 L779.3 635.1 L779.5 636.7 L779.8 638.3 L780.0 639.8 L780.2 641.4 L780.5 643.0 L780.7 644.6 L780.9 646.2 L781.2 647.8 L781.4 649.3 L781.7 650.9 L781.9 652.5 L782.1 654.1 L782.4 655.7 L782.6 657.3 L782.8 658.8 L783.1 660.4 L783.3 662.0 L783.6 663.6 L783.8 665.2 L784.0 666.8 L784.3 668.3 L784.5 669.9 L784.7 671.5 L785.0 673.1 L785.2 674.7 L785.5 676.3 L785.8 677.8 L786.2 679.4 L786.6 681.2 L787.1 683.2 L787.7 684.8 L788.4 685.8 L789.2 685.3 L790.4 683.8 L791.8 683.6 L793.4 684.2 L794.5 683.7 L795.3 682.1 L796.1 680.1 L796.8 678.4 L797.7 677.6 L798.7 678.2 L799.7 679.6 L800.7 681.2 L801.6 682.6 L802.4 684.0 L803.1 685.4 L803.9 686.8 L804.8 688.2 L805.7 689.5 L806.7 690.7 L807.9 691.8 L809.1 692.8 L810.5 693.7 L811.7 694.9 L812.9 696.3 L813.7 696.5 L814.4 695.4 L814.9 693.5 L815.5 691.6 L816.3 690.2 L817.3 689.0 L818.4 687.8 L819.5 686.6 L820.5 685.3 L821.5 684.0 L822.4 682.8 L823.3 681.4 L824.2 680.1 L824.9 678.7 L825.5 677.2 L826.2 675.7 L826.8 674.2 L827.4 672.8 L828.1 671.3 L828.8 669.9 L829.5 668.5 L830.3 667.0 L831.0 665.6 L831.8 663.8 L832.5 662.1 L833.3 661.3 L833.8 661.8 L834.3 663.3 L834.8 665.4 L835.3 667.4 L836.0 668.9 L836.9 669.7 L838.5 670.1 L840.2 670.4 L842.0 670.4 L843.4 670.4 L844.3 671.5 L845.0 673.6 L845.6 674.4 L846.1 673.8 L846.7 672.5 L847.2 670.7 L847.7 668.7 L848.1 666.7 L848.6 665.1 L848.9 663.5 L849.3 661.8 L849.6 660.2 L850.0 658.7 L850.5 657.3 L851.4 655.8 L852.6 654.6 L853.9 654.2 L855.6 654.7 L856.9 655.4 L857.8 656.5 L858.5 658.0 L859.2 659.7 L859.7 661.3 L860.0 662.8 L860.3 664.4 L860.6 665.9 L860.8 667.5 L861.0 669.1 L861.2 670.7 L861.5 672.3 L861.8 673.9 L862.1 675.5 L862.4 677.1 L862.8 678.7 L863.2 680.2 L863.8 681.7 L864.5 683.2 L865.5 684.6 L866.7 685.5 L868.1 686.0 L869.8 686.4 L871.4 686.6 L872.6 686.3 L873.7 685.2 L874.7 683.6 L875.6 682.0 L876.3 680.5 L876.8 678.6 L877.2 676.7 L877.7 674.9 L878.3 673.7 L879.1 673.4 L880.7 674.0 L882.3 674.6 L883.9 675.2 L885.3 675.4 L886.4 674.4 L887.5 672.9 L888.7 671.9 L890.2 671.0 L891.7 670.4 L893.0 670.8 L894.3 672.1 L895.6 673.3 L896.7 673.1 L897.8 671.5 L899.0 670.4 L900.3 670.7 L901.8 671.5 L903.2 672.4 L904.6 673.3 L905.9 674.3 L907.1 675.3 L908.3 676.4 L909.5 677.5 L910.6 678.6 L911.6 679.9 L912.5 681.2 L913.3 682.6 L914.2 683.9 L915.1 685.2 L916.1 686.6 L917.2 688.1 L918.3 689.2 L919.6 689.6 L921.2 689.6 L922.9 689.6 L924.4 689.8 L925.9 690.5 L927.2 691.5 L928.5 692.6 L929.6 694.1 L930.7 695.3 L931.8 695.7 L932.9 694.7 L934.0 693.2 L935.2 692.1 L936.6 691.0 L938.0 690.7 L939.4 691.5 L940.8 692.4 L942.3 692.6 L943.9 692.4 L945.6 692.0 L947.0 691.5 L948.2 690.6 L949.3 689.4 L950.3 688.1 L951.5 686.9 L952.5 685.7 L953.7 684.5 L954.9 683.5 L956.2 682.6 L957.7 681.8 L959.2 681.5 L960.8 681.5 L962.4 681.5 L964.0 681.6 L965.5 682.1 L966.9 682.9" stroke="#000" stroke-width="5.4"/>
<path d="M88.3 707.6 L91.3 707.1 L94.2 706.6 L97.2 706.1 L100.1 705.7 L103.1 705.3 L106.1 705.0 L109.1 704.5 L112.0 704.0 L115.0 703.4 L117.9 702.9 L120.9 702.5 L123.9 702.1 L126.8 701.7 L129.8 701.4 L132.8 701.0 L135.8 700.6 L138.7 699.9 L141.5 698.9 L144.4 698.0 L147.3 697.2 L150.2 696.4 L153.1 695.7 L156.0 694.9 L158.8 694.0 L161.7 693.1 L164.6 692.2 L167.4 691.3 L170.3 690.4 L173.2 689.5 L176.0 688.5 L178.8 687.5 L181.6 686.4 L184.4 685.4 L187.2 684.3 L190.0 683.1 L192.7 681.9 L195.4 680.6 L198.1 679.2 L200.8 677.9 L203.5 676.6 L206.2 675.3 L208.9 674.0 L211.6 672.7 L214.3 671.5 L217.0 670.1 L219.7 668.8 L222.3 667.3 L224.9 665.8 L227.6 664.3 L230.2 662.9 L232.9 661.5 L235.6 660.3 L238.4 659.3 L241.3 658.3 L244.1 657.3 L246.8 656.0 L249.3 654.4 L252.0 653.0 L254.7 651.9 L257.6 651.0 L260.5 650.2 L263.5 649.6 L266.4 648.9 L269.4 648.4 L272.4 648.3 L275.4 648.2 L278.4 648.2 L281.4 648.2 L284.4 648.3 L287.4 648.5 L290.4 648.7 L293.3 649.2 L296.2 650.0 L299.0 651.0 L301.9 651.9 L304.7 652.9 L307.6 653.9 L310.4 655.0 L313.2 656.0 L316.0 657.1 L318.7 658.4 L321.3 659.8 L323.9 661.3 L326.5 662.9 L329.0 664.5 L331.6 666.0 L334.1 667.7 L336.6 669.3 L339.1 671.0 L341.5 672.8 L344.0 674.4 L346.6 676.0 L349.1 677.6 L351.7 679.2 L354.2 680.7 L356.8 682.2 L359.4 683.8 L362.0 685.2 L364.6 686.7 L367.3 688.1 L370.0 689.3 L372.8 690.5 L375.6 691.5 L378.5 692.4 L381.4 693.4 L384.3 694.2 L387.2 694.8 L390.1 695.3 L393.1 695.7 L396.1 695.8 L399.1 695.7 L402.1 695.6 L405.1 695.3 L408.1 694.9 L411.0 694.2 L413.9 693.3 L416.7 692.3 L419.4 691.0 L422.0 689.5 L424.6 687.9 L427.0 686.2 L429.4 684.3 L431.6 682.3 L433.8 680.2 L435.8 678.0 L437.7 675.7 L439.7 673.4 L441.6 671.1 L443.4 668.7 L445.1 666.3 L446.7 663.7 L448.2 661.1 L449.7 658.5 L451.1 655.9 L452.6 653.2 L454.0 650.6 L455.3 647.9 L456.6 645.2 L457.9 642.5 L459.1 639.7 L460.3 637.0 L461.5 634.2 L462.6 631.5 L463.7 628.6 L464.7 625.8 L465.7 623.0 L466.8 620.2 L467.8 617.4 L468.8 614.5 L469.8 611.7 L470.7 608.9 L471.6 606.0 L472.5 603.1 L473.3 600.2 L474.1 597.4 L475.0 594.5 L475.7 591.6 L476.5 588.7 L477.3 585.8 L478.0 582.9 L478.8 580.0 L479.5 577.1 L480.2 574.1 L480.9 571.2 L481.6 568.3 L482.4 565.4 L483.1 562.5 L483.8 559.6 L484.5 556.7 L485.3 553.8 L485.9 550.8 L486.6 547.9 L487.3 545.0 L487.9 542.0 L488.5 539.1 L489.1 536.2 L489.8 533.2 L490.4 530.3 L491.1 527.4 L491.7 524.5 L492.4 521.5 L493.1 518.6 L493.7 515.7 L494.3 512.7 L494.9 509.8 L495.4 506.8 L495.9 503.9 L496.4 500.9 L496.9 498.0 L497.4 495.0 L497.9 492.1 L498.4 489.1 L499.0 486.2 L499.5 483.2 L500.1 480.2 L500.6 477.3 L501.1 474.3 L501.6 471.4 L502.1 468.4 L502.7 465.5 L503.2 462.5 L503.7 459.6 L504.2 456.6 L504.7 453.6 L505.2 450.7 L505.7 447.7 L506.2 444.8 L506.6 441.8 L507.1 438.8 L507.5 435.9 L507.9 432.9 L508.2 429.9 L508.4 426.9 L508.7 423.9 L509.1 420.9 L509.5 418.0 L510.1 415.1 L511.2 412.2 L512.3 409.4 L513.0 406.5 L513.5 403.6 L513.9 400.6 L514.3 397.6 L514.7 394.6 L515.1 391.7 L515.6 388.7 L516.0 385.7 L516.5 382.8 L516.9 379.8 L517.4 376.8 L517.8 373.9 L518.3 370.9 L518.7 367.9 L519.2 365.0 L519.6 362.0 L520.1 359.0 L520.5 356.1 L521.0 353.1 L521.4 350.1 L521.9 347.2 L522.4 344.2 L522.8 341.3 L523.3 338.3 L523.7 335.3 L524.2 332.4 L524.7 329.4 L525.1 326.4 L525.6 323.5 L526.1 320.5 L526.5 317.5 L527.0 314.6 L527.5 311.6 L527.9 308.7 L528.4 305.7 L528.9 302.7 L529.4 299.8 L529.8 296.8 L530.3 293.8 L530.8 290.9 L531.2 287.9 L531.7 284.9 L532.2 282.0 L532.6 279.0 L533.1 276.1 L533.6 273.1 L534.0 270.1 L534.5 267.2 L535.0 264.2 L535.4 261.2 L535.9 258.3 L536.4 255.3 L536.8 252.3 L537.3 249.4 L537.7 246.4 L538.2 243.5 L538.7 240.5 L539.1 237.5 L539.6 234.6 L540.0 231.6 L540.5 228.6 L540.9 225.7 L541.4 222.7 L541.8 219.7 L542.3 216.8 L542.7 213.8 L543.2 210.8 L543.6 207.9 L544.1 204.9 L544.5 201.9 L545.0 199.0 L545.4 196.0 L545.8 193.0 L546.2 190.1 L546.6 187.1 L547.1 184.1 L547.5 181.1 L548.0 178.2 L548.5 175.2 L549.0 172.3 L549.5 169.3 L550.0 166.4 L550.6 163.4 L551.1 160.5 L551.6 157.5 L552.1 154.5 L552.6 151.6 L553.1 148.6 L553.6 145.7 L554.1 142.7 L554.7 139.8 L555.2 136.8 L555.8 133.9 L556.4 130.9 L556.9 128.0 L557.5 125.0 L558.0 122.1 L558.6 119.1 L559.1 116.2 L559.7 113.2 L560.2 110.3 L560.8 107.3 L561.3 104.4 L561.8 101.4 L562.4 98.5 L562.9 95.5 L563.5 92.6 L564.1 89.6 L564.6 86.7 L565.2 83.7 L565.8 80.8 L566.4 77.9 L567.0 74.9 L567.6 72.0 L568.3 69.1 L569.0 66.1 L569.7 63.2 L570.4 60.3 L571.2 57.4 L572.0 54.5 L572.8 51.6 L573.6 48.8 L574.5 45.9 L575.3 43.0 L576.2 40.1 L577.1 37.2 L578.0 34.4 L578.9 31.5 L580.0 28.7 L581.0 25.9 L582.2 23.1 L583.5 20.5 L585.1 17.7 L586.9 15.4 L589.5 13.9 L592.4 13.6 L595.3 14.6 L597.8 16.1 L599.9 18.4 L601.6 20.9 L603.0 23.5 L604.3 26.3 L605.5 29.0 L606.6 31.8 L607.7 34.6 L608.7 37.4 L609.6 40.3 L610.6 43.1 L611.5 46.0 L612.3 48.9 L613.1 51.8 L613.8 54.7 L614.6 57.6 L615.3 60.5 L616.0 63.4 L616.6 66.3 L617.3 69.3 L617.9 72.2 L618.5 75.2 L619.1 78.1 L619.7 81.0 L620.3 84.0 L620.8 86.9 L621.4 89.9 L622.0 92.8 L622.6 95.7 L623.2 98.7 L623.8 101.6 L624.3 104.6 L624.9 107.5 L625.4 110.5 L626.0 113.4 L626.5 116.4 L627.0 119.3 L627.5 122.3 L628.0 125.2 L628.5 128.2 L629.0 131.2 L629.5 134.1 L630.0 137.1 L630.4 140.1 L630.9 143.0 L631.4 146.0 L631.8 148.9 L632.3 151.9 L632.8 154.9 L633.2 157.8 L633.7 160.8 L634.2 163.8 L634.6 166.7 L635.1 169.7 L635.5 172.7 L636.0 175.6 L636.4 178.6 L636.8 181.6 L637.3 184.5 L637.7 187.5 L638.2 190.5 L638.6 193.4 L639.1 196.4 L639.6 199.3 L640.1 202.3 L640.6 205.3 L641.1 208.2 L641.6 211.2 L642.1 214.1 L642.5 217.1 L643.0 220.1 L643.5 223.0 L643.9 226.0 L644.4 229.0 L644.8 231.9 L645.3 234.9 L645.7 237.9 L646.2 240.8 L646.6 243.8 L647.1 246.8 L647.5 249.7 L648.0 252.7 L648.4 255.7 L648.8 258.6 L649.3 261.6 L649.7 264.6 L650.1 267.5 L650.6 270.5 L651.0 273.5 L651.4 276.4 L651.9 279.4 L652.3 282.4 L652.7 285.3 L653.1 288.3 L653.5 291.3 L654.0 294.3 L654.4 297.2 L654.8 300.2 L655.2 303.2 L655.6 306.1 L656.1 309.1 L656.5 312.1 L656.9 315.1 L657.3 318.0 L657.7 321.0 L658.1 324.0 L658.6 326.9 L659.0 329.9 L659.4 332.9 L659.8 335.9 L660.2 338.8 L660.6 341.8 L661.1 344.8 L661.5 347.7 L661.9 350.7 L662.3 353.7 L662.7 356.6 L663.2 359.6 L663.6 362.6 L664.0 365.6 L664.4 368.5 L664.9 371.5 L665.3 374.5 L665.7 377.4 L666.2 380.4 L666.6 383.4 L667.0 386.3 L667.5 389.3 L667.9 392.3 L668.3 395.2 L668.8 398.2 L669.2 401.2 L669.7 404.1 L670.1 407.1 L670.6 410.1 L671.0 413.0 L671.5 416.0 L671.9 419.0 L672.4 421.9 L672.9 424.9 L673.3 427.9 L673.8 430.8 L674.2 433.8 L674.7 436.8 L675.1 439.7 L675.6 442.7 L676.1 445.7 L676.5 448.6 L677.0 451.6 L677.5 454.6 L677.9 457.5 L678.4 460.5 L678.9 463.5 L679.4 466.4 L679.8 469.4 L680.3 472.3 L680.8 475.3 L681.3 478.3 L681.8 481.2 L682.3 484.2 L682.8 487.1 L683.3 490.1 L683.8 493.0 L684.4 496.0 L684.9 498.9 L685.4 501.9 L685.9 504.8 L686.5 507.8 L687.0 510.7 L687.6 513.7 L688.1 516.6 L688.7 519.6 L689.2 522.5 L689.8 525.5 L690.3 528.4 L690.9 531.4 L691.5 534.3 L692.0 537.3 L692.6 540.2 L693.2 543.2 L693.8 546.1 L694.4 549.1 L695.0 552.0 L695.6 554.9 L696.2 557.9 L696.8 560.8 L697.4 563.8 L698.1 566.7 L698.7 569.6 L699.3 572.6 L700.0 575.5 L700.6 578.4 L701.3 581.3 L701.9 584.3 L702.6 587.2 L703.3 590.1 L704.0 593.0 L704.6 595.9 L705.4 598.9 L706.1 601.8 L706.9 604.7 L707.7 607.5 L708.5 610.4 L709.4 613.3 L710.2 616.2 L711.1 619.1 L711.9 621.9 L712.8 624.8 L713.6 627.7 L714.5 630.6 L715.4 633.4 L716.4 636.3 L717.4 639.1 L718.5 641.9 L719.6 644.7 L720.7 647.5 L721.8 650.3 L722.9 653.1 L724.1 655.8 L725.3 658.6 L726.6 661.2 L728.0 663.9 L729.4 666.6 L731.0 669.2 L732.6 671.8 L734.3 674.2 L736.2 676.4 L738.3 678.6 L740.5 680.7 L742.9 682.6 L745.4 684.2 L747.9 685.7 L750.7 687.1 L753.5 688.2 L756.3 689.3 L759.2 690.1 M761.0 690.3 L765.1 690.3 L768.2 690.3 L771.2 690.3 L774.2 690.1 L777.1 689.6 L780.1 688.9 L783.0 688.1 L785.8 687.1 L788.6 685.9 L791.2 684.5 L793.6 682.8 L796.0 680.8 L798.3 679.0 L800.6 677.1 L802.9 675.1 L805.2 673.2 L807.4 671.1 L809.6 669.1 L811.8 667.0 L814.0 665.0 L816.2 663.0 L818.4 660.9 L820.6 658.8 L822.6 656.7 L824.7 654.5 L826.8 652.3 L828.9 650.2 L831.0 648.0 L833.0 645.8 L835.0 643.6 L837.0 641.4 L839.0 639.1 L841.0 636.8 L842.9 634.6 L844.8 632.3 L846.8 630.0 L848.8 627.8 L850.8 625.5 L852.7 623.2 L854.7 620.9 L856.6 618.7 L858.6 616.4 L860.5 614.1 L862.5 611.9 L864.5 609.6 L866.4 607.3 L868.3 605.0 L870.3 602.7 L872.4 600.6 L874.7 598.7 L877.1 596.8 L879.5 595.0 L881.9 593.2 L884.5 591.6 L887.1 590.3 L889.9 589.2 L892.8 588.3 L895.7 587.5 L898.6 586.9 L901.6 586.2 L904.5 585.7 L907.5 585.3 L910.5 584.9 L913.4 584.5 L916.4 584.1 L919.4 583.7 L922.4 583.3 L925.4 583.4 L928.3 583.7 L931.3 584.3 L934.3 584.8 L937.2 585.5 L940.1 586.2 L943.0 587.0 L945.9 587.9 L948.7 588.8 L951.5 589.9 L954.3 591.2 L956.9 592.7 L959.4 594.3 L961.6 596.2 L963.5 598.6 L965.3 601.1 L967.0 603.5" stroke="#0000ff" stroke-width="5.0" stroke-dasharray="0 9.67"/>
<path d="M87.5 676.2 L88.1 674.7 L88.7 673.2 L89.4 671.7 L90.2 670.3 L91.0 669.0 L91.8 667.6 L92.7 666.3 L93.7 664.9 L94.8 663.7 L95.9 662.6 L97.2 661.8 L98.6 661.0 L100.2 660.4 L101.7 660.2 L103.3 660.4 L104.9 660.8 L106.4 661.3 L107.8 661.9 L109.2 662.8 L110.5 663.8 L111.7 664.8 L112.9 665.9 L114.0 667.0 L115.1 668.2 L116.2 669.4 L117.3 670.8 L118.3 672.3 L119.3 672.9 L120.4 671.9 L121.4 670.4 L122.7 669.3 L124.2 668.5 L125.4 668.8 L126.5 670.2 L127.3 671.6 L127.9 673.1 L128.3 674.7 L128.8 676.3 L129.2 677.8 L129.9 679.2 L130.8 680.6 L131.9 681.8 L133.0 682.9 L134.4 684.0 L135.9 684.9 L137.1 685.3 L138.0 684.1 L138.8 682.1 L139.6 681.2 L140.7 682.0 L141.9 683.5 L142.9 684.7 L143.8 686.1 L144.8 687.3 L146.0 688.3 L147.3 689.3 L148.6 690.2 L150.0 691.3 L151.2 691.9 L152.3 691.0 L153.2 689.4 L154.2 688.0 L155.5 687.1 L157.0 686.5 L158.5 685.8 L159.8 685.0 L161.0 683.9 L162.1 682.7 L163.1 681.5 L163.9 680.1 L164.7 678.7 L165.4 677.3 L166.1 675.8 L166.8 674.4 L167.6 673.0 L168.4 671.4 L169.3 669.7 L170.2 668.1 L171.2 666.7 L172.2 666.0 L173.4 666.3 L174.7 667.5 L175.5 668.7 L176.1 670.3 L176.5 671.9 L177.0 673.5 L177.7 674.8 L178.8 676.1 L180.0 677.2 L181.3 678.1 L182.7 678.8 L184.2 679.5 L185.3 680.8 L186.4 681.9 L187.5 681.6 L188.6 680.5 L189.6 678.9 L190.6 677.3 L191.5 676.0 L192.3 674.6 L193.2 673.2 L194.1 672.0 L195.3 670.8 L196.6 669.8 L198.1 669.6 L199.6 670.0 L201.3 670.3 L202.8 670.4 L204.3 669.9 L205.7 669.0 L207.1 668.1 L208.5 667.2 L209.8 666.3 L211.1 665.4 L212.4 664.5 L213.8 663.7 L215.2 662.8 L216.5 661.9 L217.7 660.9 L219.0 659.8 L219.9 658.6 L220.5 656.8 L221.0 654.8 L221.4 653.0 L221.8 651.7 L222.4 651.5 L222.9 652.4 L223.5 654.1 L224.1 656.0 L224.6 657.9 L225.1 659.6 L225.5 661.6 L225.9 663.5 L226.5 664.9 L227.1 665.5 L228.4 664.8 L230.0 663.9 L231.4 664.1 L232.7 665.2 L233.9 666.4 L234.9 667.6 L235.8 668.9 L236.8 670.2 L238.0 671.3 L239.2 672.5 L240.5 673.4 L242.0 673.9 L243.7 674.2 L245.1 674.6 L245.9 675.4 L246.5 676.8 L247.0 678.5 L247.6 680.3 L248.1 682.0 L248.7 683.5 L249.3 685.0 L249.9 686.5 L250.5 687.9 L251.2 689.4 L251.8 690.9 L252.4 692.4 L253.0 693.9 L253.5 695.4 L254.1 696.9 L254.6 698.5 L255.3 700.0 L255.9 701.4 L256.7 702.7 L257.8 704.1 L259.0 705.4 L260.3 705.7 L261.8 705.2 L263.3 704.4 L264.6 703.6 L265.8 702.6 L266.9 701.3 L268.0 700.1 L269.0 698.9 L270.0 697.5 L271.0 696.2 L272.1 695.1 L273.4 694.4 L274.9 693.7 L276.2 692.8 L277.2 691.6 L278.2 690.3 L279.0 688.9 L279.8 687.4 L280.3 685.9 L280.8 684.4 L281.2 682.8 L281.7 681.2 L282.3 679.9 L283.2 678.4 L284.4 677.0 L285.7 676.1 L287.1 676.0 L288.7 676.4 L290.1 677.1 L291.3 678.5 L292.4 679.8 L293.4 679.7 L294.2 677.9 L295.2 677.9 L296.3 679.1 L297.5 680.5 L298.8 681.5 L300.4 682.2 L301.7 683.1 L302.5 684.3 L303.0 686.1 L303.4 688.2 L303.8 689.9 L304.3 690.8 L305.2 690.4 L306.3 689.0 L307.6 687.6 L309.2 687.0 L310.5 686.7 L311.0 687.7 L311.4 689.5 L311.8 691.6 L312.3 693.4 L313.1 694.3 L314.9 694.9 L315.6 694.7 L316.0 693.4 L316.3 691.6 L316.6 689.5 L316.9 687.7 L317.2 685.9 L317.5 683.8 L317.8 681.8 L318.1 680.2 L318.4 679.3 L318.8 679.5 L319.3 680.8 L319.9 682.6 L320.5 684.6 L321.2 686.2 L321.9 687.6 L322.8 689.0 L323.6 690.3 L324.6 691.6 L325.5 693.0 L326.5 694.6 L327.5 696.1 L328.5 697.2 L329.7 697.4 L331.0 696.8 L332.4 695.7 L333.7 694.6 L335.0 693.5 L336.2 692.5 L337.3 691.3 L338.4 690.1 L339.4 688.9 L340.3 687.6 L341.2 686.3 L342.0 684.9 L342.8 683.5 L343.6 682.0 L344.3 680.6 L345.1 679.2 L345.8 677.8 L346.5 676.4 L347.2 674.9 L347.9 673.5 L348.6 672.1 L349.3 670.6 L350.0 669.2 L350.7 667.7 L351.4 666.3 L352.1 664.9 L352.8 663.4 L353.6 662.0 L354.3 660.6 L355.1 659.1 L355.9 657.5 L356.7 656.1 L357.6 654.9 L358.9 654.1 L360.5 653.7 L361.4 654.3 L362.1 656.3 L362.7 658.1 L363.5 658.4 L364.7 656.9 L365.9 656.2 L367.0 657.5 L368.1 658.6 L369.0 657.9 L369.8 656.4 L370.7 654.6 L371.7 653.4 L373.2 652.6 L374.7 651.8 L375.8 650.9 L376.5 649.7 L377.1 648.2 L377.6 646.6 L378.1 645.0 L378.7 643.4 L379.3 641.8 L379.8 640.1 L380.4 638.4 L381.0 636.9 L381.8 635.7 L383.0 635.2 L384.7 634.9 L386.0 634.3 L386.9 633.0 L387.7 631.4 L388.5 630.0 L389.7 628.9 L391.1 628.0 L392.3 627.0 L393.3 625.3 L394.1 623.7 L394.6 623.1 L394.9 623.5 L395.1 624.6 L395.2 626.2 L395.3 628.1 L395.4 630.2 L395.4 632.4 L395.5 634.5 L395.7 636.5 L395.9 638.2 L396.2 639.4 L396.9 640.1 L398.7 640.6 L400.3 641.2 L401.5 642.2 L402.6 643.4 L403.6 644.7 L404.7 645.9 L405.9 646.9 L407.3 647.7 L408.8 648.5 L410.1 649.4 L411.5 650.4 L412.9 651.1 L414.4 650.9 L416.1 650.0 L417.3 649.5 L418.1 650.0 L418.6 651.5 L419.1 653.4 L419.6 655.3 L420.2 656.9 L420.7 658.6 L421.2 660.4 L421.7 662.0 L422.3 663.4 L423.1 664.3 L424.6 664.9 L426.0 665.5 L426.8 666.6 L427.5 668.1 L428.1 669.8 L428.8 671.4 L429.5 672.8 L430.2 674.3 L430.9 675.7 L431.7 677.1 L432.5 678.5 L433.5 679.7 L434.5 681.1 L435.6 682.3 L436.9 683.2 L438.3 683.8 L440.0 684.2 L441.2 683.9 L442.2 682.6 L443.1 680.9 L444.2 679.9 L445.7 679.3 L447.3 678.8 L448.6 678.0 L449.6 676.8 L450.6 675.4 L451.5 674.1 L452.6 672.9 L453.8 671.5 L455.0 670.3 L456.3 669.5 L457.7 669.4 L459.3 669.7 L460.9 670.1 L462.4 670.6 L463.9 671.3 L465.4 671.8 L467.0 672.3 L468.7 672.6 L469.9 672.5 L470.8 671.4 L471.6 669.8 L472.4 668.1 L473.6 667.0 L475.1 666.0 L476.4 665.1 L477.1 663.9 L477.5 662.6 L477.9 661.1 L478.1 659.4 L478.4 657.7 L478.6 656.1 L479.0 654.4 L479.4 652.9 L479.9 651.3 L480.6 649.8 L481.4 648.5 L482.4 647.2 L483.7 646.0 L485.1 645.4 L486.2 646.3 L487.3 647.7 L488.8 647.5 L490.2 647.0 L491.0 647.8 L491.7 649.4 L492.2 651.4 L492.7 653.1 L493.1 654.6 L493.5 656.1 L493.9 657.7 L494.3 659.2 L494.6 660.8 L495.0 662.4 L495.4 663.9 L495.8 665.5 L496.2 667.0 L496.6 668.6 L497.0 670.1 L497.4 671.7 L497.7 673.2 L498.0 674.8 L498.3 676.4 L498.6 678.0 L498.8 679.5 L499.1 681.1 L499.3 682.7 L499.6 684.3 L499.8 685.9 L500.0 687.5 L500.2 689.0 L500.4 690.6 L500.6 692.2 L500.8 693.8 L501.0 695.4 L501.1 697.0 L501.4 698.6 L501.6 700.2 L501.9 701.9 L502.2 703.9 L502.5 705.8 L503.0 707.1 L503.7 707.2 L505.3 706.3 L506.1 705.1 L506.5 703.8 L506.9 702.4 L507.2 700.8 L507.4 699.1 L507.6 697.4 L507.9 695.6 L508.1 693.9 L508.3 692.3 L508.6 690.7 L508.9 689.2 L509.1 687.6 L509.4 686.0 L509.6 684.4 L509.9 682.8 L510.1 681.3 L510.4 679.7 L510.6 678.1 L510.9 676.5 L511.2 674.9 L511.5 673.4 L511.8 671.8 L512.1 670.2 L512.4 668.7 L512.8 667.1 L513.2 665.5 L513.6 664.0 L514.0 662.4 L514.4 660.9 L514.9 659.4 L515.5 657.9 L516.1 656.5 L516.8 655.0 L517.6 653.6 L518.3 652.1 L518.9 650.7 L519.5 649.2 L520.0 647.7 L520.6 646.2 L521.1 644.7 L521.6 643.1 L522.1 641.6 L522.5 640.1 L523.0 638.5 L523.5 637.0 L523.9 635.5 L524.3 633.9 L524.8 632.4 L525.2 630.8 L525.6 629.3 L526.0 627.8 L526.4 626.2 L526.9 624.7 L527.3 623.1 L527.7 621.4 L528.1 619.5 L528.5 617.4 L529.0 615.5 L529.4 613.9 L530.0 612.8 L530.6 612.3 L531.5 613.3 L532.6 615.1 L533.3 615.5 L533.8 614.4 L534.2 612.4 L534.6 610.2 L534.9 608.1 L535.3 606.7 L535.8 606.7 L536.4 607.7 L537.0 609.5 L537.6 611.4 L538.1 613.2 L538.4 614.8 L538.7 616.3 L538.9 617.9 L539.2 619.5 L539.4 621.1 L539.6 622.7 L539.8 624.3 L540.0 625.9 L540.2 627.4 L540.4 629.0 L540.7 630.7 L540.9 632.6 L541.2 634.6 L541.4 636.7 L541.6 638.7 L541.9 640.4 L542.2 641.8 L542.6 642.7 L543.1 642.8 L544.2 641.4 L545.3 639.8 L545.7 639.8 L546.0 641.0 L546.2 643.0 L546.4 645.3 L546.5 647.6 L546.7 649.6 L546.9 650.9 L547.3 651.1 L547.8 650.2 L548.5 648.5 L549.1 646.5 L549.6 644.7 L549.9 643.2 L550.2 641.6 L550.4 640.1 L550.7 638.5 L550.9 636.9 L551.0 635.3 L551.2 633.7 L551.4 632.1 L551.5 630.5 L551.7 628.9 L551.9 627.3 L552.0 625.7 L552.2 624.1 L552.3 622.5 L552.5 620.9 L552.6 619.3 L552.8 617.7 L552.9 616.1 L553.0 614.5 L553.2 612.9 L553.3 611.3 L553.4 609.7 L553.5 608.1 L553.7 606.5 L553.8 605.0 L553.9 603.4 L554.0 601.8 L554.2 600.2 L554.3 598.6 L554.4 597.0 L554.5 595.4 L554.7 593.8 L554.8 592.2 L554.9 590.6 L555.0 589.0 L555.1 587.4 L555.3 585.8 L555.4 584.2 L555.5 582.6 L555.6 581.0 L555.7 579.4 L555.8 577.8 L556.0 576.2 L556.1 574.6 L556.2 573.0 L556.3 571.4 L556.4 569.8 L556.5 568.3 L556.6 566.7 L556.7 565.1 L556.9 563.5 L557.0 561.9 L557.1 560.3 L557.2 558.7 L557.3 557.1 L557.4 555.5 L557.5 553.9 L557.6 552.3 L557.7 550.7 L557.8 549.1 L557.9 547.5 L558.0 545.9 L558.1 544.3 L558.3 542.7 L558.4 541.1 L558.5 539.5 L558.6 537.9 L558.7 536.3 L558.8 534.7 L558.9 533.1 L559.0 531.5 L559.1 529.9 L559.2 528.3 L559.3 526.7 L559.4 525.1 L559.5 523.5 L559.6 522.0 L559.7 520.4 L559.8 518.8 L559.9 517.2 L559.9 515.6 L560.0 514.0 L560.1 512.4 L560.2 510.8 L560.3 509.2 L560.4 507.6 L560.5 506.0 L560.6 504.4 L560.7 502.8 L560.8 501.2 L560.9 499.6 L561.0 498.0 L561.1 496.4 L561.2 494.8 L561.3 493.2 L561.4 491.6 L561.4 490.0 L561.5 488.4 L561.6 486.8 L561.7 485.2 L561.8 483.6 L561.9 482.0 L562.0 480.4 L562.1 478.8 L562.2 477.2 L562.3 475.6 L562.4 474.0 L562.5 472.4 L562.6 470.8 L562.7 469.2 L562.8 467.6 L562.9 466.0 L563.0 464.5 L563.1 462.9 L563.2 461.3 L563.3 459.7 L563.4 458.1 L563.5 456.5 L563.6 454.9 L563.7 453.3 L563.8 451.7 L563.9 450.1 L564.0 448.5 L564.1 446.9 L564.2 445.3 L564.3 443.7 L564.4 442.1 L564.5 440.5 L564.6 438.9 L564.7 437.3 L564.8 435.7 L564.9 434.1 L565.0 432.5 L565.1 430.9 L565.2 429.3 L565.3 427.7 L565.4 426.1 L565.5 424.5 L565.6 422.9 L565.7 421.3 L565.8 419.7 L565.9 418.1 L566.0 416.5 L566.1 414.9 L566.1 413.3 L566.2 411.8 L566.3 410.2 L566.4 408.6 L566.5 407.0 L566.6 405.4 L566.7 403.8 L566.7 402.2 L566.8 400.6 L566.9 399.0 L567.0 397.4 L567.0 395.8 L567.1 394.2 L567.2 392.6 L567.2 391.0 L567.3 389.4 L567.4 387.8 L567.5 386.2 L567.5 384.6 L567.6 383.0 L567.7 381.4 L567.7 379.8 L567.8 378.2 L567.9 376.6 L567.9 375.0 L568.0 373.4 L568.1 371.8 L568.1 370.2 L568.2 368.6 L568.2 367.0 L568.3 365.4 L568.4 363.8 L568.4 362.2 L568.5 360.6 L568.5 359.0 L568.6 357.4 L568.7 355.8 L568.7 354.2 L568.8 352.6 L568.8 351.0 L568.9 349.4 L569.0 347.8 L569.0 346.2 L569.1 344.6 L569.1 343.0 L569.2 341.4 L569.2 339.8 L569.3 338.2 L569.4 336.6 L569.4 335.0 L569.5 333.4 L569.5 331.8 L569.6 330.2 L569.6 328.6 L569.7 327.0 L569.7 325.4 L569.8 323.8 L569.9 322.2 L569.9 320.6 L570.0 319.0 L570.0 317.4 L570.1 315.8 L570.2 314.2 L570.2 312.6 L570.3 311.0 L570.3 309.4 L570.4 307.8 L570.4 306.2 L570.5 304.6 L570.6 303.0 L570.6 301.4 L570.7 299.8 L570.7 298.2 L570.8 296.6 L570.9 295.0 L570.9 293.4 L571.0 291.8 L571.1 290.2 L571.1 288.6 L571.2 287.1 L571.2 285.5 L571.3 283.9 L571.4 282.3 L571.4 280.7 L571.5 279.1 L571.6 277.5 L571.6 275.9 L571.7 274.3 L571.8 272.7 L571.8 271.1 L571.9 269.5 L571.9 267.9 L572.0 266.3 L572.1 264.7 L572.1 263.1 L572.2 261.5 L572.3 259.9 L572.3 258.3 L572.4 256.7 L572.5 255.1 L572.5 253.5 L572.6 251.9 L572.6 250.3 L572.7 248.7 L572.8 247.1 L572.8 245.5 L572.9 243.9 L573.0 242.3 L573.0 240.7 L573.1 239.1 L573.1 237.5 L573.2 235.9 L573.3 234.3 L573.3 232.7 L573.4 231.1 L573.4 229.5 L573.5 227.9 L573.6 226.3 L573.6 224.7 L573.7 223.1 L573.7 221.5 L573.8 219.9 L573.8 218.3 L573.9 216.7 L573.9 215.1 L574.0 213.5 L574.1 211.9 L574.1 210.3 L574.2 208.7 L574.2 207.1 L574.3 205.5 L574.3 203.9 L574.4 202.3 L574.4 200.7 L574.5 199.1 L574.5 197.5 L574.6 195.9 L574.6 194.3 L574.6 192.7 L574.7 191.1 L574.7 189.5 L574.8 187.9 L574.8 186.3 L574.8 184.7 L574.9 183.1 L574.9 181.5 L575.0 179.9 L575.0 178.3 L575.0 176.7 L575.1 175.1 L575.1 173.5 L575.2 171.9 L575.2 170.3 L575.2 168.7 L575.3 167.1 L575.3 165.5 L575.4 163.9 L575.4 162.3 L575.4 160.7 L575.5 159.1 L575.5 157.5 L575.6 155.9 L575.6 154.3 L575.7 152.7 L575.7 151.1 L575.8 149.5 L575.8 147.9 L575.9 146.3 L575.9 144.7 L576.0 143.1 L576.0 141.5 L576.1 139.9 L576.1 138.3 L576.2 136.7 L576.2 135.1 L576.3 133.5 L576.3 131.9 L576.4 130.3 L576.4 128.7 L576.5 127.1 L576.5 125.5 L576.6 123.9 L576.6 122.3 L576.7 120.7 L576.7 119.1 L576.8 117.5 L576.9 115.9 L576.9 114.3 L577.0 112.7 L577.0 111.1 L577.1 109.5 L577.2 108.0 L577.2 106.4 L577.3 104.8 L577.4 103.2 L577.5 101.6 L577.5 100.0 L577.6 98.4 L577.7 96.8 L577.8 95.2 L577.9 93.6 L578.0 92.0 L578.1 90.4 L578.1 88.8 L578.2 87.2 L578.4 85.6 L578.5 84.0 L578.6 82.4 L578.7 80.8 L578.8 79.2 L578.9 77.6 L579.0 76.0 L579.1 74.4 L579.3 72.8 L579.4 71.2 L579.5 69.6 L579.6 68.0 L579.7 66.4 L579.9 64.8 L580.0 63.2 L580.1 61.6 L580.3 60.1 L580.4 58.5 L580.5 56.9 L580.7 55.3 L580.8 53.7 L581.0 52.1 L581.1 50.5 L581.3 48.9 L581.5 47.3 L581.6 45.7 L581.8 44.1 L582.0 42.5 L582.2 40.9 L582.4 39.4 L582.6 37.8 L582.8 36.2 L583.0 34.6 L583.2 33.0 L583.4 31.4 L583.7 29.8 L583.9 28.2 L584.2 26.7 L584.5 25.1 L584.9 23.6 L585.3 22.0 L585.7 20.4 L586.1 18.7 L586.7 17.2 L587.4 15.9 L588.5 14.7 L590.0 13.9 L591.2 14.5 L592.4 15.9 L593.1 17.3 L593.6 18.7 L594.1 20.3 L594.5 21.9 L594.9 23.5 L595.2 25.1 L595.4 26.7 L595.7 28.3 L595.9 29.8 L596.1 31.4 L596.2 33.0 L596.4 34.6 L596.6 36.2 L596.7 37.8 L596.9 39.4 L597.0 41.0 L597.1 42.6 L597.3 44.2 L597.4 45.8 L597.5 47.4 L597.6 49.0 L597.7 50.6 L597.8 52.2 L597.9 53.8 L598.1 55.4 L598.2 57.0 L598.2 58.6 L598.3 60.2 L598.4 61.8 L598.5 63.4 L598.6 64.9 L598.7 66.5 L598.8 68.1 L598.9 69.7 L599.0 71.3 L599.1 72.9 L599.2 74.5 L599.3 76.1 L599.4 77.7 L599.5 79.3 L599.6 80.9 L599.7 82.5 L599.8 84.1 L599.9 85.7 L600.0 87.3 L600.1 88.9 L600.2 90.5 L600.3 92.1 L600.4 93.7 L600.4 95.3 L600.5 96.9 L600.6 98.5 L600.7 100.1 L600.8 101.7 L600.9 103.3 L600.9 104.9 L601.0 106.5 L601.1 108.1 L601.2 109.7 L601.2 111.3 L601.3 112.9 L601.4 114.5 L601.4 116.1 L601.5 117.7 L601.6 119.3 L601.6 120.9 L601.7 122.5 L601.8 124.1 L601.8 125.7 L601.9 127.3 L601.9 128.9 L602.0 130.5 L602.1 132.1 L602.1 133.7 L602.2 135.3 L602.2 136.9 L602.3 138.5 L602.3 140.1 L602.4 141.7 L602.5 143.3 L602.5 144.9 L602.6 146.4 L602.6 148.0 L602.7 149.6 L602.8 151.2 L602.8 152.8 L602.9 154.4 L602.9 156.0 L603.0 157.6 L603.1 159.2 L603.1 160.8 L603.2 162.4 L603.2 164.0 L603.3 165.6 L603.4 167.2 L603.4 168.8 L603.5 170.4 L603.5 172.0 L603.6 173.6 L603.6 175.2 L603.7 176.8 L603.8 178.4 L603.8 180.0 L603.9 181.6 L603.9 183.2 L604.0 184.8 L604.1 186.4 L604.1 188.0 L604.2 189.6 L604.2 191.2 L604.3 192.8 L604.4 194.4 L604.4 196.0 L604.5 197.6 L604.5 199.2 L604.6 200.8 L604.6 202.4 L604.7 204.0 L604.8 205.6 L604.8 207.2 L604.9 208.8 L604.9 210.4 L605.0 212.0 L605.1 213.6 L605.1 215.2 L605.2 216.8 L605.2 218.4 L605.3 220.0 L605.4 221.6 L605.4 223.2 L605.5 224.8 L605.5 226.4 L605.6 228.0 L605.7 229.6 L605.7 231.2 L605.8 232.8 L605.8 234.4 L605.9 236.0 L606.0 237.6 L606.0 239.2 L606.1 240.8 L606.1 242.4 L606.2 244.0 L606.3 245.6 L606.3 247.2 L606.4 248.8 L606.4 250.4 L606.5 252.0 L606.6 253.6 L606.6 255.2 L606.7 256.8 L606.7 258.4 L606.8 260.0 L606.9 261.6 L606.9 263.2 L607.0 264.8 L607.0 266.4 L607.1 268.0 L607.2 269.6 L607.2 271.2 L607.3 272.8 L607.3 274.4 L607.4 276.0 L607.5 277.6 L607.5 279.2 L607.6 280.8 L607.6 282.4 L607.7 284.0 L607.8 285.6 L607.8 287.2 L607.9 288.8 L607.9 290.4 L608.0 291.9 L608.1 293.5 L608.1 295.1 L608.2 296.7 L608.2 298.3 L608.3 299.9 L608.4 301.5 L608.4 303.1 L608.5 304.7 L608.5 306.3 L608.6 307.9 L608.7 309.5 L608.7 311.1 L608.8 312.7 L608.8 314.3 L608.9 315.9 L609.0 317.5 L609.0 319.1 L609.1 320.7 L609.1 322.3 L609.2 323.9 L609.3 325.5 L609.3 327.1 L609.4 328.7 L609.4 330.3 L609.5 331.9 L609.5 333.5 L609.6 335.1 L609.7 336.7 L609.7 338.3 L609.8 339.9 L609.8 341.5 L609.9 343.1 L610.0 344.7 L610.0 346.3 L610.1 347.9 L610.1 349.5 L610.2 351.1 L610.2 352.7 L610.3 354.3 L610.4 355.9 L610.4 357.5 L610.5 359.1 L610.5 360.7 L610.6 362.3 L610.7 363.9 L610.7 365.5 L610.8 367.1 L610.9 368.7 L610.9 370.3 L611.0 371.9 L611.0 373.5 L611.1 375.1 L611.2 376.7 L611.2 378.3 L611.3 379.9 L611.4 381.5 L611.4 383.1 L611.5 384.7 L611.6 386.3 L611.6 387.9 L611.7 389.5 L611.8 391.1 L611.8 392.7 L611.9 394.3 L612.0 395.9 L612.0 397.5 L612.1 399.1 L612.2 400.7 L612.3 402.3 L612.3 403.9 L612.4 405.5 L612.5 407.1 L612.6 408.7 L612.6 410.3 L612.7 411.9 L612.8 413.5 L612.9 415.1 L613.0 416.6 L613.1 418.2 L613.1 419.8 L613.2 421.4 L613.3 423.0 L613.4 424.6 L613.5 426.2 L613.6 427.8 L613.7 429.4 L613.8 431.0 L613.8 432.6 L613.9 434.2 L614.0 435.8 L614.1 437.4 L614.2 439.0 L614.3 440.6 L614.4 442.2 L614.5 443.8 L614.5 445.4 L614.6 447.0 L614.7 448.6 L614.8 450.2 L614.9 451.8 L615.0 453.4 L615.0 455.0 L615.1 456.6 L615.2 458.2 L615.3 459.8 L615.4 461.4 L615.4 463.0 L615.5 464.6 L615.6 466.2 L615.6 467.8 L615.7 469.4 L615.8 471.0 L615.8 472.6 L615.9 474.2 L616.0 475.8 L616.0 477.4 L616.1 479.0 L616.1 480.6 L616.2 482.2 L616.3 483.8 L616.3 485.4 L616.4 487.0 L616.4 488.6 L616.5 490.2 L616.5 491.8 L616.6 493.4 L616.7 495.0 L616.7 496.6 L616.8 498.2 L616.8 499.8 L616.9 501.4 L616.9 503.0 L617.0 504.6 L617.1 506.2 L617.1 507.8 L617.2 509.4 L617.3 511.0 L617.3 512.6 L617.4 514.2 L617.5 515.7 L617.5 517.3 L617.6 518.9 L617.7 520.5 L617.7 522.1 L617.8 523.7 L617.9 525.3 L618.0 526.9 L618.1 528.5 L618.2 530.1 L618.3 531.7 L618.4 533.3 L618.5 534.9 L618.6 536.5 L618.7 538.1 L618.8 539.7 L618.9 541.3 L619.0 542.9 L619.1 544.5 L619.2 546.1 L619.3 547.7 L619.4 549.3 L619.5 550.9 L619.7 552.5 L619.8 554.1 L619.9 555.7 L620.0 557.3 L620.2 558.9 L620.3 560.5 L620.4 562.1 L620.6 563.6 L620.7 565.2 L620.8 566.8 L621.0 568.4 L621.1 570.0 L621.3 571.6 L621.4 573.2 L621.6 574.8 L621.7 576.4 L621.8 578.0 L622.0 579.6 L622.2 581.2 L622.4 582.8 L622.5 584.3 L622.7 585.9 L622.9 587.5 L623.1 589.1 L623.3 590.7 L623.5 592.3 L623.7 593.9 L623.9 595.5 L624.0 597.1 L624.2 598.7 L624.3 600.2 L624.4 601.8 L624.6 603.4 L624.7 605.0 L624.8 606.6 L624.9 608.2 L624.9 609.8 L625.0 611.4 L625.1 613.0 L625.2 614.6 L625.3 616.2 L625.4 617.8 L625.5 619.4 L625.5 621.0 L625.6 622.6 L625.7 624.2 L625.9 625.8 L626.0 627.4 L626.1 629.0 L626.2 630.6 L626.4 632.2 L626.6 633.8 L626.8 635.4 L627.0 636.9 L627.2 638.5 L627.4 640.1 L627.6 641.7 L627.9 643.3 L628.1 644.9 L628.3 646.5 L628.5 648.2 L628.8 649.8 L629.1 651.4 L629.4 652.9 L629.8 654.5 L630.2 655.9 L630.9 657.5 L631.9 659.0 L633.1 659.4 L634.7 658.9 L635.9 657.9 L636.7 656.0 L637.4 654.6 L638.2 654.7 L639.0 656.1 L639.7 658.0 L640.3 659.6 L640.8 661.1 L641.3 662.7 L641.8 664.2 L642.3 665.7 L642.8 667.2 L643.4 668.7 L644.1 670.2 L644.7 671.6 L645.4 673.1 L645.9 674.6 L646.5 676.1 L647.1 677.6 L647.6 679.1 L648.1 680.6 L648.6 682.2 L649.0 683.7 L649.5 685.2 L649.9 686.8 L650.4 688.3 L650.8 689.8 L651.2 691.4 L651.6 692.9 L652.1 694.5 L652.7 696.0 L653.3 697.8 L653.9 699.5 L654.7 700.6 L655.9 700.6 L657.6 700.2 L659.1 699.5 L660.4 698.5 L661.9 698.0 L663.6 697.7 L664.7 697.0 L665.4 695.6 L666.0 693.9 L666.7 692.4 L667.6 690.9 L668.5 689.6 L669.8 688.9 L671.5 688.6 L672.9 688.0 L673.9 686.6 L674.9 685.2 L676.1 685.3 L677.4 686.5 L678.4 687.8 L679.0 689.5 L679.4 691.5 L679.8 693.4 L680.3 694.7 L681.0 694.9 L682.3 694.0 L683.7 692.8 L684.9 691.5 L686.0 690.2 L687.1 690.3 L688.3 691.6 L689.3 693.0 L690.3 694.6 L691.2 696.1 L692.1 696.6 L692.8 695.8 L693.5 694.1 L694.1 692.2 L694.9 690.6 L695.6 689.1 L696.4 687.7 L697.4 686.6 L699.0 685.9 L700.4 685.2 L701.0 684.1 L701.4 682.8 L701.7 681.1 L702.0 679.4 L702.2 677.6 L702.5 675.9 L703.0 674.4 L703.7 673.0 L704.6 671.7 L705.6 670.4 L706.5 669.0 L707.3 667.6 L708.0 666.2 L708.7 664.8 L709.4 663.3 L710.0 661.8 L710.6 660.4 L711.2 658.9 L711.8 657.4 L712.4 655.9 L713.0 654.4 L713.5 652.6 L714.1 650.7 L714.7 649.2 L715.5 648.7 L717.0 649.3 L718.6 649.2 L719.9 648.0 L720.9 648.1 L721.7 649.5 L722.4 651.3 L722.9 653.0 L723.3 654.6 L723.6 656.2 L723.9 657.8 L724.1 659.4 L724.5 661.0 L724.9 662.5 L725.6 663.8 L726.6 665.1 L727.7 666.3 L729.1 667.4 L730.4 667.5 L731.6 666.0 L732.6 665.2 L733.2 666.0 L733.6 667.5 L734.1 669.4 L734.5 671.4 L735.1 673.0 L735.8 674.5 L736.6 675.9 L737.3 677.3 L737.8 678.8 L738.2 680.4 L738.6 681.9 L739.1 683.5 L739.5 685.0 L740.2 686.5 L741.1 688.2 L742.1 689.8 L743.0 690.8 L743.6 690.5 L744.0 689.2 L744.4 687.3 L744.9 685.3 L745.5 683.6 L746.6 682.5 L748.1 681.7 L748.8 682.4 L749.4 684.1 L749.9 686.0 L750.6 687.5 L751.9 688.5 L753.5 689.1 L754.7 688.8 L755.6 687.5 L756.6 685.9 L757.7 684.6 L758.9 683.5 L760.2 682.7 L761.8 682.2 L763.4 681.9 L764.5 681.2 L765.4 679.9 L766.1 678.3 L766.8 676.7 L767.5 675.3 L768.3 673.8 L769.0 672.4 L769.6 670.9 L770.1 669.4 L770.5 667.7 L770.9 666.1 L771.3 664.5 L771.9 663.2 L772.7 661.9 L774.1 660.8 L775.5 660.3 L777.0 661.0 L778.0 662.1 L778.7 663.4 L779.2 664.9 L779.7 666.6 L780.1 668.2 L780.5 669.8 L780.9 671.3 L781.3 672.9 L781.7 674.4 L782.0 676.0 L782.4 677.6 L782.8 679.1 L783.2 680.6 L783.7 682.2 L784.1 683.7 L784.6 685.2 L785.1 686.8 L785.6 688.4 L786.1 690.3 L786.5 692.3 L787.0 693.7 L787.6 694.1 L788.0 693.2 L788.5 691.5 L789.0 689.4 L789.6 687.6 L790.5 686.6 L792.1 686.0 L793.4 686.3 L794.5 688.0 L795.2 689.2 L795.8 688.5 L796.2 686.8 L796.5 684.6 L796.9 682.3 L797.3 680.7 L797.8 680.1 L798.6 681.0 L799.5 682.7 L800.3 684.3 L800.9 685.8 L801.4 687.3 L801.9 688.9 L802.5 690.3 L803.2 691.7 L804.0 693.1 L805.0 694.4 L805.9 695.7 L806.9 697.0 L807.9 698.3 L808.9 699.5 L810.0 700.6 L811.2 701.7 L812.1 703.1 L812.8 704.9 L813.5 705.7 L814.2 704.8 L814.9 703.1 L815.6 701.3 L816.5 699.8 L817.3 698.5 L818.2 697.2 L819.2 695.9 L820.1 694.6 L821.2 693.4 L822.2 692.1 L823.1 690.8 L823.9 689.4 L824.7 688.0 L825.5 686.6 L826.1 685.2 L826.8 683.7 L827.4 682.3 L828.0 680.8 L828.6 679.3 L829.1 677.7 L829.5 676.2 L830.0 674.7 L830.3 673.1 L830.7 671.6 L831.1 670.0 L831.4 668.4 L831.8 666.8 L832.1 664.9 L832.5 662.8 L832.8 660.9 L833.2 659.2 L833.6 658.1 L834.2 657.8 L835.1 659.1 L836.1 660.8 L837.0 660.8 L837.6 659.4 L838.3 657.5 L839.1 656.0 L840.3 654.8 L841.6 653.8 L843.1 653.8 L844.7 654.4 L845.5 654.0 L846.1 652.6 L846.6 650.7 L847.1 648.8 L847.5 647.2 L847.9 645.6 L848.3 644.1 L848.7 642.5 L849.0 640.9 L849.4 639.4 L849.8 637.8 L850.2 636.0 L850.6 634.0 L851.0 632.1 L851.5 630.6 L852.1 629.7 L852.9 630.2 L854.1 631.8 L855.5 632.0 L857.0 631.3 L858.1 631.9 L858.9 633.4 L859.6 635.2 L860.2 636.7 L860.7 638.2 L861.1 639.7 L861.5 641.3 L861.8 642.9 L862.2 644.5 L862.5 646.0 L862.7 647.6 L862.9 649.2 L863.2 650.8 L863.4 652.4 L863.7 653.9 L864.1 655.5 L864.6 657.1 L865.1 658.6 L865.8 660.1 L866.5 661.4 L867.6 662.6 L868.8 663.7 L870.0 664.7 L871.3 666.0 L872.6 666.8 L873.9 666.5 L875.2 665.4 L876.4 664.2 L877.7 663.0 L879.0 662.0 L880.4 662.1 L881.9 662.8 L883.2 663.8 L884.2 665.4 L885.2 666.0 L886.4 665.1 L887.6 663.7 L888.8 662.5 L889.9 661.4 L891.0 660.3 L892.1 658.9 L893.3 657.6 L894.5 657.3 L895.8 658.4 L897.1 659.2 L898.7 658.7 L900.2 658.2 L901.2 659.0 L902.1 660.5 L903.0 662.1 L904.1 663.4 L905.2 664.6 L906.5 665.4 L908.1 665.9 L909.4 666.5 L910.2 667.5 L910.9 669.0 L911.4 670.7 L911.9 672.4 L912.5 673.9 L913.1 675.4 L913.6 676.9 L914.2 678.4 L914.7 679.9 L915.3 681.4 L915.9 683.0 L916.4 684.5 L917.0 686.1 L917.7 687.5 L918.5 688.7 L919.6 689.8 L921.0 690.7 L922.4 691.6 L923.7 692.5 L925.0 693.5 L926.2 694.5 L927.4 695.6 L928.5 696.7 L929.7 697.8 L931.0 699.0 L932.4 699.7 L933.3 699.1 L934.0 697.3 L934.8 695.4 L935.7 694.7 L937.2 695.1 L938.9 695.6 L940.5 695.5 L942.0 694.8 L943.3 695.0 L944.5 696.5 L945.6 697.7 L946.5 697.2 L947.2 695.7 L948.0 693.9 L948.9 692.5 L950.1 691.5 L951.4 690.6 L952.8 689.6 L954.0 688.6 L955.3 687.5 L956.6 686.7 L958.1 686.1 L959.7 685.7 L961.2 685.6 L962.8 685.9 L964.3 686.4 L965.9 686.9 L967.4 687.4" stroke="#0000ff" stroke-width="5.4"/>
</g>
<g class="t"><text x="88.6" y="746.1" text-anchor="middle">1510</text><text x="191.9" y="746.1" text-anchor="middle">1520</text><text x="295.2" y="746.1" text-anchor="middle">1530</text><text x="398.5" y="746.1" text-anchor="middle">1540</text><text x="501.8" y="746.1" text-anchor="middle">1550</text><text x="605.1" y="746.1" text-anchor="middle">1560</text><text x="708.4" y="746.1" text-anchor="middle">1570</text><text x="811.7" y="746.1" text-anchor="middle">1580</text><text x="915.0" y="746.1" text-anchor="middle">1590</text><text x="82.8" y="717.3" text-anchor="end">0,0</text><text x="82.8" y="578.4" text-anchor="end">0,2</text><text x="82.8" y="439.5" text-anchor="end">0,4</text><text x="82.8" y="300.6" text-anchor="end">0,6</text><text x="82.8" y="161.7" text-anchor="end">0,8</text><text x="82.8" y="22.8" text-anchor="end">1,0</text></g>
<g fill="none" stroke-linecap="round">
<path d="M117.6 48.7H186" stroke="#000" stroke-width="5.2" stroke-dasharray="0 9.7"/>
<path d="M118.3 89.4H191.7" stroke="#000" stroke-width="5.4"/>
<path d="M117.6 130.6H186" stroke="#0000ff" stroke-width="5.2" stroke-dasharray="0 9.7"/>
<path d="M118.3 171.6H191.7" stroke="#0000ff" stroke-width="5.4"/>
</g>
<g class="lg">
<text transform="translate(202.3 59.7) scale(1 1.06)">TCF1</text>
<text transform="translate(200.9 100.5) scale(1 1.06)" letter-spacing="0.2">Gated</text><text transform="translate(301 100.5) scale(1 1.06)">TCF1</text>
<text transform="translate(202.3 141.9) scale(1 1.06)">TCF2</text>
<text transform="translate(200.9 182.1) scale(1 1.06)" letter-spacing="0.2">Gated</text><text transform="translate(301 182.1) scale(1 1.06)">TCF2</text>
</g>
<text class="ax" style="font-size:37.2px" transform="translate(387.2 780.8) scale(1 1.03)">Wavelength (nm)</text>
<text class="ax" transform="translate(27.9 564.1) rotate(-90)">Normalized amplitude (a.u.)</text>
</svg>
</body></html>
